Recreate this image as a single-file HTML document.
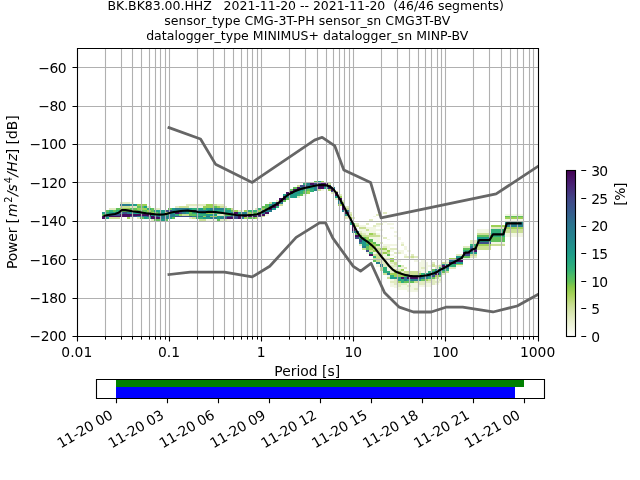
<!DOCTYPE html><html><head><meta charset="utf-8"><title>PPSD BK.BK83.00.HHZ</title>
<style>html,body{margin:0;padding:0;background:#fff;overflow:hidden}svg{display:block}text{font-family:"DejaVu Sans","Liberation Sans",sans-serif;fill:#000}.t{font-size:12.5px;text-anchor:middle;white-space:pre}.l{font-size:13.89px}.g{stroke:#b0b0b0;stroke-width:1.11;fill:none}.k{stroke:#000;stroke-width:1.11;fill:none}</style></head><body>
<svg width="640" height="480" viewBox="0 0 640 480">
<rect width="640" height="480" fill="#fff"/>
<text class="t" x="305.7" y="9.8" textLength="396.6" lengthAdjust="spacing" xml:space="preserve">BK.BK83.00.HHZ   2021-11-20 -- 2021-11-20  (46/46 segments)</text>
<text class="t" x="307.2" y="25.2" textLength="286.1" lengthAdjust="spacing" xml:space="preserve">sensor_type CMG-3T-PH sensor_sn CMG3T-BV</text>
<text class="t" x="307.2" y="39.7" textLength="322.1" lengthAdjust="spacing" xml:space="preserve">datalogger_type MINIMUS+ datalogger_sn MINP-BV</text>
<g shape-rendering="crispEdges">
<rect x="102.00" y="212.00" width="4.00" height="2.00" fill="#1f9c89"/>
<rect x="102.00" y="214.00" width="4.00" height="2.00" fill="#60c059"/>
<rect x="102.00" y="216.00" width="4.00" height="1.00" fill="#460e60"/>
<rect x="102.00" y="217.00" width="4.00" height="2.00" fill="#460e60"/>
<rect x="106.00" y="210.00" width="3.00" height="2.00" fill="#60c059"/>
<rect x="106.00" y="212.00" width="3.00" height="2.00" fill="#30af7a"/>
<rect x="106.00" y="214.00" width="3.00" height="2.00" fill="#1f9c89"/>
<rect x="106.00" y="216.00" width="3.00" height="1.00" fill="#3d4e89"/>
<rect x="106.00" y="217.00" width="3.00" height="2.00" fill="#1f9c89"/>
<rect x="109.00" y="208.00" width="4.00" height="2.00" fill="#e1ebc0"/>
<rect x="109.00" y="210.00" width="4.00" height="2.00" fill="#30af7a"/>
<rect x="109.00" y="212.00" width="4.00" height="2.00" fill="#1f9c89"/>
<rect x="109.00" y="214.00" width="4.00" height="2.00" fill="#3d4e89"/>
<rect x="109.00" y="216.00" width="4.00" height="1.00" fill="#460e60"/>
<rect x="109.00" y="217.00" width="4.00" height="2.00" fill="#cadf95"/>
<rect x="113.00" y="208.00" width="3.00" height="2.00" fill="#e1ebc0"/>
<rect x="113.00" y="210.00" width="3.00" height="2.00" fill="#60c059"/>
<rect x="113.00" y="212.00" width="3.00" height="2.00" fill="#1f9c89"/>
<rect x="113.00" y="214.00" width="3.00" height="2.00" fill="#3d4e89"/>
<rect x="113.00" y="216.00" width="3.00" height="1.00" fill="#460e60"/>
<rect x="113.00" y="217.00" width="3.00" height="2.00" fill="#cadf95"/>
<rect x="116.00" y="208.00" width="4.00" height="2.00" fill="#60c059"/>
<rect x="116.00" y="210.00" width="4.00" height="2.00" fill="#30af7a"/>
<rect x="116.00" y="212.00" width="4.00" height="2.00" fill="#1f9c89"/>
<rect x="116.00" y="214.00" width="4.00" height="2.00" fill="#3d4e89"/>
<rect x="116.00" y="216.00" width="4.00" height="1.00" fill="#460e60"/>
<rect x="116.00" y="217.00" width="4.00" height="2.00" fill="#cadf95"/>
<rect x="120.00" y="202.00" width="3.00" height="2.00" fill="#e1ebc0"/>
<rect x="120.00" y="204.00" width="3.00" height="2.00" fill="#277d8e"/>
<rect x="120.00" y="206.00" width="3.00" height="2.00" fill="#cadf95"/>
<rect x="120.00" y="208.00" width="3.00" height="2.00" fill="#9dd055"/>
<rect x="120.00" y="210.00" width="3.00" height="2.00" fill="#60c059"/>
<rect x="120.00" y="212.00" width="3.00" height="2.00" fill="#277d8e"/>
<rect x="120.00" y="214.00" width="3.00" height="2.00" fill="#460e60"/>
<rect x="120.00" y="216.00" width="3.00" height="1.00" fill="#460e60"/>
<rect x="123.00" y="202.00" width="4.00" height="2.00" fill="#e1ebc0"/>
<rect x="123.00" y="204.00" width="4.00" height="2.00" fill="#277d8e"/>
<rect x="123.00" y="206.00" width="4.00" height="2.00" fill="#cadf95"/>
<rect x="123.00" y="208.00" width="4.00" height="2.00" fill="#9dd055"/>
<rect x="123.00" y="210.00" width="4.00" height="2.00" fill="#60c059"/>
<rect x="123.00" y="212.00" width="4.00" height="2.00" fill="#3d4e89"/>
<rect x="123.00" y="214.00" width="4.00" height="2.00" fill="#460e60"/>
<rect x="123.00" y="216.00" width="4.00" height="1.00" fill="#460e60"/>
<rect x="127.00" y="202.00" width="3.00" height="2.00" fill="#e1ebc0"/>
<rect x="127.00" y="204.00" width="3.00" height="2.00" fill="#277d8e"/>
<rect x="127.00" y="206.00" width="3.00" height="2.00" fill="#cadf95"/>
<rect x="127.00" y="208.00" width="3.00" height="2.00" fill="#9dd055"/>
<rect x="127.00" y="210.00" width="3.00" height="2.00" fill="#60c059"/>
<rect x="127.00" y="212.00" width="3.00" height="2.00" fill="#277d8e"/>
<rect x="127.00" y="214.00" width="3.00" height="2.00" fill="#460e60"/>
<rect x="127.00" y="216.00" width="3.00" height="1.00" fill="#460e60"/>
<rect x="127.00" y="217.00" width="3.00" height="2.00" fill="#9dd055"/>
<rect x="130.00" y="202.00" width="4.00" height="2.00" fill="#f2f6e3"/>
<rect x="130.00" y="204.00" width="4.00" height="2.00" fill="#1f9c89"/>
<rect x="130.00" y="206.00" width="4.00" height="2.00" fill="#e1ebc0"/>
<rect x="130.00" y="208.00" width="4.00" height="2.00" fill="#60c059"/>
<rect x="130.00" y="210.00" width="4.00" height="2.00" fill="#9dd055"/>
<rect x="130.00" y="212.00" width="4.00" height="2.00" fill="#1f9c89"/>
<rect x="130.00" y="214.00" width="4.00" height="2.00" fill="#460e60"/>
<rect x="130.00" y="216.00" width="4.00" height="1.00" fill="#3d4e89"/>
<rect x="130.00" y="217.00" width="4.00" height="2.00" fill="#f2f6e3"/>
<rect x="134.00" y="204.00" width="3.00" height="2.00" fill="#1f9c89"/>
<rect x="134.00" y="206.00" width="3.00" height="2.00" fill="#e1ebc0"/>
<rect x="134.00" y="208.00" width="3.00" height="2.00" fill="#60c059"/>
<rect x="134.00" y="210.00" width="3.00" height="2.00" fill="#9dd055"/>
<rect x="134.00" y="212.00" width="3.00" height="2.00" fill="#1f9c89"/>
<rect x="134.00" y="214.00" width="3.00" height="2.00" fill="#460e60"/>
<rect x="134.00" y="216.00" width="3.00" height="1.00" fill="#3d4e89"/>
<rect x="137.00" y="204.00" width="3.00" height="2.00" fill="#9dd055"/>
<rect x="137.00" y="206.00" width="3.00" height="2.00" fill="#60c059"/>
<rect x="137.00" y="208.00" width="3.00" height="2.00" fill="#9dd055"/>
<rect x="137.00" y="210.00" width="3.00" height="2.00" fill="#60c059"/>
<rect x="137.00" y="212.00" width="3.00" height="2.00" fill="#1f9c89"/>
<rect x="137.00" y="214.00" width="3.00" height="2.00" fill="#460e60"/>
<rect x="137.00" y="216.00" width="3.00" height="1.00" fill="#277d8e"/>
<rect x="137.00" y="217.00" width="3.00" height="2.00" fill="#e1ebc0"/>
<rect x="140.00" y="204.00" width="4.00" height="2.00" fill="#9dd055"/>
<rect x="140.00" y="206.00" width="4.00" height="2.00" fill="#60c059"/>
<rect x="140.00" y="208.00" width="4.00" height="2.00" fill="#9dd055"/>
<rect x="140.00" y="210.00" width="4.00" height="2.00" fill="#60c059"/>
<rect x="140.00" y="212.00" width="4.00" height="2.00" fill="#1f9c89"/>
<rect x="140.00" y="214.00" width="4.00" height="2.00" fill="#460e60"/>
<rect x="140.00" y="216.00" width="4.00" height="1.00" fill="#277d8e"/>
<rect x="140.00" y="217.00" width="4.00" height="2.00" fill="#60c059"/>
<rect x="144.00" y="204.00" width="3.00" height="2.00" fill="#9dd055"/>
<rect x="144.00" y="206.00" width="3.00" height="2.00" fill="#1f9c89"/>
<rect x="144.00" y="208.00" width="3.00" height="2.00" fill="#9dd055"/>
<rect x="144.00" y="210.00" width="3.00" height="2.00" fill="#60c059"/>
<rect x="144.00" y="212.00" width="3.00" height="2.00" fill="#1f9c89"/>
<rect x="144.00" y="214.00" width="3.00" height="2.00" fill="#460e60"/>
<rect x="144.00" y="216.00" width="3.00" height="1.00" fill="#277d8e"/>
<rect x="144.00" y="217.00" width="3.00" height="2.00" fill="#1f9c89"/>
<rect x="147.00" y="206.00" width="4.00" height="2.00" fill="#e1ebc0"/>
<rect x="147.00" y="208.00" width="4.00" height="2.00" fill="#30af7a"/>
<rect x="147.00" y="210.00" width="4.00" height="2.00" fill="#9dd055"/>
<rect x="147.00" y="212.00" width="4.00" height="2.00" fill="#60c059"/>
<rect x="147.00" y="214.00" width="4.00" height="2.00" fill="#460e60"/>
<rect x="147.00" y="216.00" width="4.00" height="1.00" fill="#3d4e89"/>
<rect x="147.00" y="217.00" width="4.00" height="2.00" fill="#30af7a"/>
<rect x="151.00" y="208.00" width="3.00" height="2.00" fill="#60c059"/>
<rect x="151.00" y="210.00" width="3.00" height="2.00" fill="#60c059"/>
<rect x="151.00" y="212.00" width="3.00" height="2.00" fill="#9dd055"/>
<rect x="151.00" y="214.00" width="3.00" height="2.00" fill="#1f9c89"/>
<rect x="151.00" y="216.00" width="3.00" height="1.00" fill="#460e60"/>
<rect x="151.00" y="217.00" width="3.00" height="2.00" fill="#460e60"/>
<rect x="151.00" y="219.00" width="3.00" height="2.00" fill="#e1ebc0"/>
<rect x="154.00" y="208.00" width="4.00" height="2.00" fill="#e1ebc0"/>
<rect x="154.00" y="210.00" width="4.00" height="2.00" fill="#1f9c89"/>
<rect x="154.00" y="212.00" width="4.00" height="2.00" fill="#60c059"/>
<rect x="154.00" y="214.00" width="4.00" height="2.00" fill="#1f9c89"/>
<rect x="154.00" y="216.00" width="4.00" height="1.00" fill="#3d4e89"/>
<rect x="154.00" y="217.00" width="4.00" height="2.00" fill="#460e60"/>
<rect x="154.00" y="219.00" width="4.00" height="2.00" fill="#60c059"/>
<rect x="158.00" y="208.00" width="3.00" height="2.00" fill="#e1ebc0"/>
<rect x="158.00" y="210.00" width="3.00" height="2.00" fill="#1f9c89"/>
<rect x="158.00" y="212.00" width="3.00" height="2.00" fill="#30af7a"/>
<rect x="158.00" y="214.00" width="3.00" height="2.00" fill="#1f9c89"/>
<rect x="158.00" y="216.00" width="3.00" height="1.00" fill="#277d8e"/>
<rect x="158.00" y="217.00" width="3.00" height="2.00" fill="#460e60"/>
<rect x="158.00" y="219.00" width="3.00" height="2.00" fill="#60c059"/>
<rect x="161.00" y="210.00" width="4.00" height="2.00" fill="#1f9c89"/>
<rect x="161.00" y="212.00" width="4.00" height="2.00" fill="#1f9c89"/>
<rect x="161.00" y="214.00" width="4.00" height="2.00" fill="#1f9c89"/>
<rect x="161.00" y="216.00" width="4.00" height="1.00" fill="#277d8e"/>
<rect x="161.00" y="217.00" width="4.00" height="2.00" fill="#277d8e"/>
<rect x="161.00" y="219.00" width="4.00" height="2.00" fill="#1f9c89"/>
<rect x="165.00" y="210.00" width="3.00" height="2.00" fill="#3d4e89"/>
<rect x="165.00" y="212.00" width="3.00" height="2.00" fill="#9dd055"/>
<rect x="165.00" y="214.00" width="3.00" height="2.00" fill="#30af7a"/>
<rect x="165.00" y="216.00" width="3.00" height="1.00" fill="#277d8e"/>
<rect x="165.00" y="217.00" width="3.00" height="2.00" fill="#277d8e"/>
<rect x="165.00" y="219.00" width="3.00" height="2.00" fill="#60c059"/>
<rect x="168.00" y="208.00" width="4.00" height="2.00" fill="#60c059"/>
<rect x="168.00" y="210.00" width="4.00" height="2.00" fill="#3d4e89"/>
<rect x="168.00" y="212.00" width="4.00" height="2.00" fill="#1f9c89"/>
<rect x="168.00" y="214.00" width="4.00" height="2.00" fill="#277d8e"/>
<rect x="168.00" y="216.00" width="4.00" height="1.00" fill="#277d8e"/>
<rect x="168.00" y="217.00" width="4.00" height="2.00" fill="#1f9c89"/>
<rect x="172.00" y="208.00" width="3.00" height="2.00" fill="#1f9c89"/>
<rect x="172.00" y="210.00" width="3.00" height="2.00" fill="#277d8e"/>
<rect x="172.00" y="212.00" width="3.00" height="2.00" fill="#1f9c89"/>
<rect x="172.00" y="214.00" width="3.00" height="2.00" fill="#277d8e"/>
<rect x="172.00" y="216.00" width="3.00" height="1.00" fill="#277d8e"/>
<rect x="172.00" y="217.00" width="3.00" height="2.00" fill="#60c059"/>
<rect x="175.00" y="206.00" width="4.00" height="2.00" fill="#e1ebc0"/>
<rect x="175.00" y="208.00" width="4.00" height="2.00" fill="#277d8e"/>
<rect x="175.00" y="210.00" width="4.00" height="2.00" fill="#1f9c89"/>
<rect x="175.00" y="212.00" width="4.00" height="2.00" fill="#460e60"/>
<rect x="175.00" y="214.00" width="4.00" height="2.00" fill="#30af7a"/>
<rect x="175.00" y="216.00" width="4.00" height="1.00" fill="#3d4e89"/>
<rect x="179.00" y="206.00" width="3.00" height="2.00" fill="#cadf95"/>
<rect x="179.00" y="208.00" width="3.00" height="2.00" fill="#277d8e"/>
<rect x="179.00" y="210.00" width="3.00" height="2.00" fill="#1f9c89"/>
<rect x="179.00" y="212.00" width="3.00" height="2.00" fill="#3d4e89"/>
<rect x="179.00" y="214.00" width="3.00" height="2.00" fill="#9dd055"/>
<rect x="179.00" y="216.00" width="3.00" height="1.00" fill="#3d4e89"/>
<rect x="182.00" y="206.00" width="4.00" height="2.00" fill="#cadf95"/>
<rect x="182.00" y="208.00" width="4.00" height="2.00" fill="#277d8e"/>
<rect x="182.00" y="210.00" width="4.00" height="2.00" fill="#277d8e"/>
<rect x="182.00" y="212.00" width="4.00" height="2.00" fill="#277d8e"/>
<rect x="182.00" y="214.00" width="4.00" height="2.00" fill="#cadf95"/>
<rect x="182.00" y="216.00" width="4.00" height="1.00" fill="#3d4e89"/>
<rect x="186.00" y="204.00" width="3.00" height="2.00" fill="#e1ebc0"/>
<rect x="186.00" y="206.00" width="3.00" height="2.00" fill="#cadf95"/>
<rect x="186.00" y="208.00" width="3.00" height="2.00" fill="#277d8e"/>
<rect x="186.00" y="210.00" width="3.00" height="2.00" fill="#1f9c89"/>
<rect x="186.00" y="212.00" width="3.00" height="2.00" fill="#1f9c89"/>
<rect x="186.00" y="214.00" width="3.00" height="2.00" fill="#cadf95"/>
<rect x="186.00" y="216.00" width="3.00" height="1.00" fill="#3d4e89"/>
<rect x="189.00" y="204.00" width="3.00" height="2.00" fill="#e1ebc0"/>
<rect x="189.00" y="206.00" width="3.00" height="2.00" fill="#f2f6e3"/>
<rect x="189.00" y="208.00" width="3.00" height="2.00" fill="#1f9c89"/>
<rect x="189.00" y="210.00" width="3.00" height="2.00" fill="#30af7a"/>
<rect x="189.00" y="212.00" width="3.00" height="2.00" fill="#60c059"/>
<rect x="189.00" y="214.00" width="3.00" height="2.00" fill="#60c059"/>
<rect x="189.00" y="216.00" width="3.00" height="1.00" fill="#3d4e89"/>
<rect x="189.00" y="217.00" width="3.00" height="2.00" fill="#e1ebc0"/>
<rect x="192.00" y="204.00" width="4.00" height="2.00" fill="#e1ebc0"/>
<rect x="192.00" y="206.00" width="4.00" height="2.00" fill="#f2f6e3"/>
<rect x="192.00" y="208.00" width="4.00" height="2.00" fill="#30af7a"/>
<rect x="192.00" y="210.00" width="4.00" height="2.00" fill="#460e60"/>
<rect x="192.00" y="212.00" width="4.00" height="2.00" fill="#30af7a"/>
<rect x="192.00" y="214.00" width="4.00" height="2.00" fill="#60c059"/>
<rect x="192.00" y="216.00" width="4.00" height="1.00" fill="#277d8e"/>
<rect x="192.00" y="217.00" width="4.00" height="2.00" fill="#cadf95"/>
<rect x="196.00" y="204.00" width="3.00" height="2.00" fill="#e1ebc0"/>
<rect x="196.00" y="206.00" width="3.00" height="2.00" fill="#f2f6e3"/>
<rect x="196.00" y="208.00" width="3.00" height="2.00" fill="#30af7a"/>
<rect x="196.00" y="210.00" width="3.00" height="2.00" fill="#277d8e"/>
<rect x="196.00" y="212.00" width="3.00" height="2.00" fill="#1f9c89"/>
<rect x="196.00" y="214.00" width="3.00" height="2.00" fill="#30af7a"/>
<rect x="196.00" y="216.00" width="3.00" height="1.00" fill="#277d8e"/>
<rect x="196.00" y="217.00" width="3.00" height="2.00" fill="#30af7a"/>
<rect x="199.00" y="204.00" width="4.00" height="2.00" fill="#e1ebc0"/>
<rect x="199.00" y="206.00" width="4.00" height="2.00" fill="#f2f6e3"/>
<rect x="199.00" y="208.00" width="4.00" height="2.00" fill="#1f9c89"/>
<rect x="199.00" y="210.00" width="4.00" height="2.00" fill="#277d8e"/>
<rect x="199.00" y="212.00" width="4.00" height="2.00" fill="#1f9c89"/>
<rect x="199.00" y="214.00" width="4.00" height="2.00" fill="#30af7a"/>
<rect x="199.00" y="216.00" width="4.00" height="1.00" fill="#277d8e"/>
<rect x="199.00" y="217.00" width="4.00" height="2.00" fill="#30af7a"/>
<rect x="199.00" y="219.00" width="4.00" height="2.00" fill="#cadf95"/>
<rect x="203.00" y="204.00" width="3.00" height="2.00" fill="#e1ebc0"/>
<rect x="203.00" y="206.00" width="3.00" height="2.00" fill="#9dd055"/>
<rect x="203.00" y="208.00" width="3.00" height="2.00" fill="#60c059"/>
<rect x="203.00" y="210.00" width="3.00" height="2.00" fill="#277d8e"/>
<rect x="203.00" y="212.00" width="3.00" height="2.00" fill="#1f9c89"/>
<rect x="203.00" y="214.00" width="3.00" height="2.00" fill="#30af7a"/>
<rect x="203.00" y="216.00" width="3.00" height="1.00" fill="#9dd055"/>
<rect x="203.00" y="217.00" width="3.00" height="2.00" fill="#1f9c89"/>
<rect x="203.00" y="219.00" width="3.00" height="2.00" fill="#cadf95"/>
<rect x="206.00" y="204.00" width="4.00" height="2.00" fill="#9dd055"/>
<rect x="206.00" y="206.00" width="4.00" height="2.00" fill="#9dd055"/>
<rect x="206.00" y="208.00" width="4.00" height="2.00" fill="#1f9c89"/>
<rect x="206.00" y="210.00" width="4.00" height="2.00" fill="#1f9c89"/>
<rect x="206.00" y="212.00" width="4.00" height="2.00" fill="#9dd055"/>
<rect x="206.00" y="214.00" width="4.00" height="2.00" fill="#1f9c89"/>
<rect x="206.00" y="216.00" width="4.00" height="1.00" fill="#277d8e"/>
<rect x="206.00" y="217.00" width="4.00" height="2.00" fill="#1f9c89"/>
<rect x="206.00" y="219.00" width="4.00" height="2.00" fill="#f2f6e3"/>
<rect x="210.00" y="204.00" width="3.00" height="2.00" fill="#9dd055"/>
<rect x="210.00" y="206.00" width="3.00" height="2.00" fill="#9dd055"/>
<rect x="210.00" y="208.00" width="3.00" height="2.00" fill="#277d8e"/>
<rect x="210.00" y="210.00" width="3.00" height="2.00" fill="#1f9c89"/>
<rect x="210.00" y="212.00" width="3.00" height="2.00" fill="#9dd055"/>
<rect x="210.00" y="214.00" width="3.00" height="2.00" fill="#1f9c89"/>
<rect x="210.00" y="216.00" width="3.00" height="1.00" fill="#9dd055"/>
<rect x="210.00" y="217.00" width="3.00" height="2.00" fill="#277d8e"/>
<rect x="210.00" y="219.00" width="3.00" height="2.00" fill="#f2f6e3"/>
<rect x="213.00" y="204.00" width="4.00" height="2.00" fill="#cadf95"/>
<rect x="213.00" y="206.00" width="4.00" height="2.00" fill="#60c059"/>
<rect x="213.00" y="208.00" width="4.00" height="2.00" fill="#277d8e"/>
<rect x="213.00" y="210.00" width="4.00" height="2.00" fill="#1f9c89"/>
<rect x="213.00" y="212.00" width="4.00" height="2.00" fill="#60c059"/>
<rect x="213.00" y="214.00" width="4.00" height="2.00" fill="#1f9c89"/>
<rect x="213.00" y="216.00" width="4.00" height="1.00" fill="#9dd055"/>
<rect x="213.00" y="217.00" width="4.00" height="2.00" fill="#277d8e"/>
<rect x="213.00" y="219.00" width="4.00" height="2.00" fill="#f2f6e3"/>
<rect x="217.00" y="204.00" width="3.00" height="2.00" fill="#e1ebc0"/>
<rect x="217.00" y="206.00" width="3.00" height="2.00" fill="#9dd055"/>
<rect x="217.00" y="208.00" width="3.00" height="2.00" fill="#277d8e"/>
<rect x="217.00" y="210.00" width="3.00" height="2.00" fill="#30af7a"/>
<rect x="217.00" y="212.00" width="3.00" height="2.00" fill="#30af7a"/>
<rect x="217.00" y="214.00" width="3.00" height="2.00" fill="#e1ebc0"/>
<rect x="217.00" y="216.00" width="3.00" height="1.00" fill="#1f9c89"/>
<rect x="217.00" y="217.00" width="3.00" height="2.00" fill="#1f9c89"/>
<rect x="217.00" y="219.00" width="3.00" height="2.00" fill="#60c059"/>
<rect x="220.00" y="204.00" width="4.00" height="2.00" fill="#e1ebc0"/>
<rect x="220.00" y="206.00" width="4.00" height="2.00" fill="#cadf95"/>
<rect x="220.00" y="208.00" width="4.00" height="2.00" fill="#277d8e"/>
<rect x="220.00" y="210.00" width="4.00" height="2.00" fill="#1f9c89"/>
<rect x="220.00" y="212.00" width="4.00" height="2.00" fill="#30af7a"/>
<rect x="220.00" y="214.00" width="4.00" height="2.00" fill="#e1ebc0"/>
<rect x="220.00" y="216.00" width="4.00" height="1.00" fill="#1f9c89"/>
<rect x="220.00" y="217.00" width="4.00" height="2.00" fill="#277d8e"/>
<rect x="220.00" y="219.00" width="4.00" height="2.00" fill="#e1ebc0"/>
<rect x="224.00" y="206.00" width="3.00" height="2.00" fill="#e1ebc0"/>
<rect x="224.00" y="208.00" width="3.00" height="2.00" fill="#30af7a"/>
<rect x="224.00" y="210.00" width="3.00" height="2.00" fill="#1f9c89"/>
<rect x="224.00" y="212.00" width="3.00" height="2.00" fill="#1f9c89"/>
<rect x="224.00" y="214.00" width="3.00" height="2.00" fill="#60c059"/>
<rect x="224.00" y="216.00" width="3.00" height="1.00" fill="#277d8e"/>
<rect x="224.00" y="217.00" width="3.00" height="2.00" fill="#3d4e89"/>
<rect x="224.00" y="219.00" width="3.00" height="2.00" fill="#e1ebc0"/>
<rect x="227.00" y="208.00" width="4.00" height="2.00" fill="#60c059"/>
<rect x="227.00" y="210.00" width="4.00" height="2.00" fill="#1f9c89"/>
<rect x="227.00" y="212.00" width="4.00" height="2.00" fill="#1f9c89"/>
<rect x="227.00" y="214.00" width="4.00" height="2.00" fill="#60c059"/>
<rect x="227.00" y="216.00" width="4.00" height="1.00" fill="#3d4e89"/>
<rect x="227.00" y="217.00" width="4.00" height="2.00" fill="#460e60"/>
<rect x="227.00" y="219.00" width="4.00" height="2.00" fill="#f2f6e3"/>
<rect x="231.00" y="208.00" width="3.00" height="2.00" fill="#cadf95"/>
<rect x="231.00" y="210.00" width="3.00" height="2.00" fill="#60c059"/>
<rect x="231.00" y="212.00" width="3.00" height="2.00" fill="#277d8e"/>
<rect x="231.00" y="214.00" width="3.00" height="2.00" fill="#1f9c89"/>
<rect x="231.00" y="216.00" width="3.00" height="1.00" fill="#3d4e89"/>
<rect x="231.00" y="217.00" width="3.00" height="2.00" fill="#460e60"/>
<rect x="234.00" y="210.00" width="4.00" height="2.00" fill="#9dd055"/>
<rect x="234.00" y="212.00" width="4.00" height="2.00" fill="#460e60"/>
<rect x="234.00" y="214.00" width="4.00" height="2.00" fill="#1f9c89"/>
<rect x="234.00" y="216.00" width="4.00" height="1.00" fill="#3d4e89"/>
<rect x="234.00" y="217.00" width="4.00" height="2.00" fill="#3d4e89"/>
<rect x="238.00" y="210.00" width="3.00" height="2.00" fill="#e1ebc0"/>
<rect x="238.00" y="212.00" width="3.00" height="2.00" fill="#1f9c89"/>
<rect x="238.00" y="214.00" width="3.00" height="2.00" fill="#277d8e"/>
<rect x="238.00" y="216.00" width="3.00" height="1.00" fill="#460e60"/>
<rect x="238.00" y="217.00" width="3.00" height="2.00" fill="#460e60"/>
<rect x="241.00" y="210.00" width="3.00" height="2.00" fill="#f2f6e3"/>
<rect x="241.00" y="212.00" width="3.00" height="2.00" fill="#277d8e"/>
<rect x="241.00" y="214.00" width="3.00" height="2.00" fill="#277d8e"/>
<rect x="241.00" y="216.00" width="3.00" height="1.00" fill="#3d4e89"/>
<rect x="241.00" y="217.00" width="3.00" height="2.00" fill="#277d8e"/>
<rect x="244.00" y="210.00" width="4.00" height="2.00" fill="#9dd055"/>
<rect x="244.00" y="212.00" width="4.00" height="2.00" fill="#277d8e"/>
<rect x="244.00" y="214.00" width="4.00" height="2.00" fill="#277d8e"/>
<rect x="244.00" y="216.00" width="4.00" height="1.00" fill="#460e60"/>
<rect x="244.00" y="217.00" width="4.00" height="2.00" fill="#9dd055"/>
<rect x="248.00" y="210.00" width="3.00" height="2.00" fill="#30af7a"/>
<rect x="248.00" y="212.00" width="3.00" height="2.00" fill="#9dd055"/>
<rect x="248.00" y="214.00" width="3.00" height="2.00" fill="#1f9c89"/>
<rect x="248.00" y="216.00" width="3.00" height="1.00" fill="#460e60"/>
<rect x="248.00" y="217.00" width="3.00" height="2.00" fill="#60c059"/>
<rect x="251.00" y="210.00" width="4.00" height="2.00" fill="#30af7a"/>
<rect x="251.00" y="212.00" width="4.00" height="2.00" fill="#60c059"/>
<rect x="251.00" y="214.00" width="4.00" height="2.00" fill="#1f9c89"/>
<rect x="251.00" y="216.00" width="4.00" height="1.00" fill="#460e60"/>
<rect x="251.00" y="217.00" width="4.00" height="2.00" fill="#60c059"/>
<rect x="255.00" y="208.00" width="3.00" height="2.00" fill="#e1ebc0"/>
<rect x="255.00" y="210.00" width="3.00" height="2.00" fill="#30af7a"/>
<rect x="255.00" y="212.00" width="3.00" height="2.00" fill="#60c059"/>
<rect x="255.00" y="214.00" width="3.00" height="2.00" fill="#277d8e"/>
<rect x="255.00" y="216.00" width="3.00" height="1.00" fill="#460e60"/>
<rect x="255.00" y="217.00" width="3.00" height="2.00" fill="#9dd055"/>
<rect x="258.00" y="208.00" width="4.00" height="2.00" fill="#30af7a"/>
<rect x="258.00" y="210.00" width="4.00" height="2.00" fill="#9dd055"/>
<rect x="258.00" y="212.00" width="4.00" height="2.00" fill="#1f9c89"/>
<rect x="258.00" y="214.00" width="4.00" height="2.00" fill="#460e60"/>
<rect x="258.00" y="216.00" width="4.00" height="1.00" fill="#3d4e89"/>
<rect x="258.00" y="217.00" width="4.00" height="2.00" fill="#f2f6e3"/>
<rect x="262.00" y="206.00" width="3.00" height="2.00" fill="#60c059"/>
<rect x="262.00" y="208.00" width="3.00" height="2.00" fill="#9dd055"/>
<rect x="262.00" y="210.00" width="3.00" height="2.00" fill="#1f9c89"/>
<rect x="262.00" y="212.00" width="3.00" height="2.00" fill="#277d8e"/>
<rect x="262.00" y="214.00" width="3.00" height="2.00" fill="#460e60"/>
<rect x="262.00" y="216.00" width="3.00" height="1.00" fill="#cadf95"/>
<rect x="265.00" y="204.00" width="4.00" height="2.00" fill="#60c059"/>
<rect x="265.00" y="206.00" width="4.00" height="2.00" fill="#60c059"/>
<rect x="265.00" y="208.00" width="4.00" height="2.00" fill="#30af7a"/>
<rect x="265.00" y="210.00" width="4.00" height="2.00" fill="#277d8e"/>
<rect x="265.00" y="212.00" width="4.00" height="2.00" fill="#460e60"/>
<rect x="265.00" y="214.00" width="4.00" height="2.00" fill="#f2f6e3"/>
<rect x="269.00" y="202.00" width="3.00" height="2.00" fill="#cadf95"/>
<rect x="269.00" y="204.00" width="3.00" height="2.00" fill="#1f9c89"/>
<rect x="269.00" y="206.00" width="3.00" height="2.00" fill="#277d8e"/>
<rect x="269.00" y="208.00" width="3.00" height="2.00" fill="#460e60"/>
<rect x="269.00" y="210.00" width="3.00" height="2.00" fill="#277d8e"/>
<rect x="272.00" y="202.00" width="4.00" height="2.00" fill="#1f9c89"/>
<rect x="272.00" y="204.00" width="4.00" height="2.00" fill="#3d4e89"/>
<rect x="272.00" y="206.00" width="4.00" height="2.00" fill="#460e60"/>
<rect x="272.00" y="208.00" width="4.00" height="2.00" fill="#1f9c89"/>
<rect x="276.00" y="200.00" width="3.00" height="2.00" fill="#e1ebc0"/>
<rect x="276.00" y="202.00" width="3.00" height="2.00" fill="#460e60"/>
<rect x="276.00" y="204.00" width="3.00" height="2.00" fill="#460e60"/>
<rect x="276.00" y="206.00" width="3.00" height="2.00" fill="#30af7a"/>
<rect x="279.00" y="198.00" width="4.00" height="2.00" fill="#460e60"/>
<rect x="279.00" y="200.00" width="4.00" height="2.00" fill="#460e60"/>
<rect x="279.00" y="202.00" width="4.00" height="2.00" fill="#277d8e"/>
<rect x="279.00" y="204.00" width="4.00" height="2.00" fill="#cadf95"/>
<rect x="283.00" y="194.00" width="3.00" height="2.00" fill="#1f9c89"/>
<rect x="283.00" y="196.00" width="3.00" height="2.00" fill="#460e60"/>
<rect x="283.00" y="198.00" width="3.00" height="2.00" fill="#460e60"/>
<rect x="283.00" y="200.00" width="3.00" height="2.00" fill="#60c059"/>
<rect x="286.00" y="192.00" width="4.00" height="2.00" fill="#460e60"/>
<rect x="286.00" y="194.00" width="4.00" height="2.00" fill="#3d4e89"/>
<rect x="286.00" y="196.00" width="4.00" height="2.00" fill="#1f9c89"/>
<rect x="286.00" y="198.00" width="4.00" height="2.00" fill="#60c059"/>
<rect x="290.00" y="189.00" width="3.00" height="2.00" fill="#60c059"/>
<rect x="290.00" y="191.00" width="3.00" height="1.00" fill="#460e60"/>
<rect x="290.00" y="192.00" width="3.00" height="2.00" fill="#460e60"/>
<rect x="290.00" y="194.00" width="3.00" height="2.00" fill="#1f9c89"/>
<rect x="290.00" y="196.00" width="3.00" height="2.00" fill="#1f9c89"/>
<rect x="293.00" y="187.00" width="4.00" height="2.00" fill="#60c059"/>
<rect x="293.00" y="189.00" width="4.00" height="2.00" fill="#460e60"/>
<rect x="293.00" y="191.00" width="4.00" height="1.00" fill="#3d4e89"/>
<rect x="293.00" y="192.00" width="4.00" height="2.00" fill="#1f9c89"/>
<rect x="293.00" y="194.00" width="4.00" height="2.00" fill="#1f9c89"/>
<rect x="293.00" y="196.00" width="4.00" height="2.00" fill="#1f9c89"/>
<rect x="297.00" y="185.00" width="3.00" height="2.00" fill="#cadf95"/>
<rect x="297.00" y="187.00" width="3.00" height="2.00" fill="#460e60"/>
<rect x="297.00" y="189.00" width="3.00" height="2.00" fill="#277d8e"/>
<rect x="297.00" y="191.00" width="3.00" height="1.00" fill="#1f9c89"/>
<rect x="297.00" y="192.00" width="3.00" height="2.00" fill="#1f9c89"/>
<rect x="297.00" y="194.00" width="3.00" height="2.00" fill="#30af7a"/>
<rect x="297.00" y="196.00" width="3.00" height="2.00" fill="#e1ebc0"/>
<rect x="300.00" y="185.00" width="3.00" height="2.00" fill="#3d4e89"/>
<rect x="300.00" y="187.00" width="3.00" height="2.00" fill="#277d8e"/>
<rect x="300.00" y="189.00" width="3.00" height="2.00" fill="#1f9c89"/>
<rect x="300.00" y="191.00" width="3.00" height="1.00" fill="#30af7a"/>
<rect x="300.00" y="192.00" width="3.00" height="2.00" fill="#30af7a"/>
<rect x="300.00" y="194.00" width="3.00" height="2.00" fill="#60c059"/>
<rect x="303.00" y="183.00" width="4.00" height="2.00" fill="#30af7a"/>
<rect x="303.00" y="185.00" width="4.00" height="2.00" fill="#3d4e89"/>
<rect x="303.00" y="187.00" width="4.00" height="2.00" fill="#277d8e"/>
<rect x="303.00" y="189.00" width="4.00" height="2.00" fill="#30af7a"/>
<rect x="303.00" y="191.00" width="4.00" height="1.00" fill="#60c059"/>
<rect x="303.00" y="192.00" width="4.00" height="2.00" fill="#60c059"/>
<rect x="303.00" y="194.00" width="4.00" height="2.00" fill="#f2f6e3"/>
<rect x="307.00" y="183.00" width="3.00" height="2.00" fill="#277d8e"/>
<rect x="307.00" y="185.00" width="3.00" height="2.00" fill="#277d8e"/>
<rect x="307.00" y="187.00" width="3.00" height="2.00" fill="#1f9c89"/>
<rect x="307.00" y="189.00" width="3.00" height="2.00" fill="#60c059"/>
<rect x="307.00" y="191.00" width="3.00" height="1.00" fill="#9dd055"/>
<rect x="307.00" y="192.00" width="3.00" height="2.00" fill="#9dd055"/>
<rect x="310.00" y="183.00" width="4.00" height="2.00" fill="#460e60"/>
<rect x="310.00" y="185.00" width="4.00" height="2.00" fill="#277d8e"/>
<rect x="310.00" y="187.00" width="4.00" height="2.00" fill="#1f9c89"/>
<rect x="310.00" y="189.00" width="4.00" height="2.00" fill="#30af7a"/>
<rect x="310.00" y="191.00" width="4.00" height="1.00" fill="#30af7a"/>
<rect x="314.00" y="181.00" width="3.00" height="2.00" fill="#60c059"/>
<rect x="314.00" y="183.00" width="3.00" height="2.00" fill="#3d4e89"/>
<rect x="314.00" y="185.00" width="3.00" height="2.00" fill="#277d8e"/>
<rect x="314.00" y="187.00" width="3.00" height="2.00" fill="#277d8e"/>
<rect x="314.00" y="189.00" width="3.00" height="2.00" fill="#277d8e"/>
<rect x="317.00" y="181.00" width="4.00" height="2.00" fill="#1f9c89"/>
<rect x="317.00" y="183.00" width="4.00" height="2.00" fill="#3d4e89"/>
<rect x="317.00" y="185.00" width="4.00" height="2.00" fill="#460e60"/>
<rect x="317.00" y="187.00" width="4.00" height="2.00" fill="#460e60"/>
<rect x="317.00" y="189.00" width="4.00" height="2.00" fill="#cadf95"/>
<rect x="321.00" y="181.00" width="3.00" height="2.00" fill="#9dd055"/>
<rect x="321.00" y="183.00" width="3.00" height="2.00" fill="#460e60"/>
<rect x="321.00" y="185.00" width="3.00" height="2.00" fill="#460e60"/>
<rect x="321.00" y="187.00" width="3.00" height="2.00" fill="#460e60"/>
<rect x="321.00" y="189.00" width="3.00" height="2.00" fill="#f2f6e3"/>
<rect x="324.00" y="183.00" width="4.00" height="2.00" fill="#460e60"/>
<rect x="324.00" y="185.00" width="4.00" height="2.00" fill="#3d4e89"/>
<rect x="324.00" y="187.00" width="4.00" height="2.00" fill="#1f9c89"/>
<rect x="328.00" y="183.00" width="3.00" height="2.00" fill="#cadf95"/>
<rect x="328.00" y="185.00" width="3.00" height="2.00" fill="#277d8e"/>
<rect x="328.00" y="187.00" width="3.00" height="2.00" fill="#460e60"/>
<rect x="328.00" y="189.00" width="3.00" height="2.00" fill="#9dd055"/>
<rect x="331.00" y="187.00" width="4.00" height="2.00" fill="#277d8e"/>
<rect x="331.00" y="189.00" width="4.00" height="2.00" fill="#460e60"/>
<rect x="331.00" y="191.00" width="4.00" height="1.00" fill="#3d4e89"/>
<rect x="331.00" y="192.00" width="4.00" height="2.00" fill="#e1ebc0"/>
<rect x="335.00" y="191.00" width="3.00" height="1.00" fill="#cadf95"/>
<rect x="335.00" y="192.00" width="3.00" height="2.00" fill="#460e60"/>
<rect x="335.00" y="194.00" width="3.00" height="2.00" fill="#460e60"/>
<rect x="335.00" y="196.00" width="3.00" height="2.00" fill="#1f9c89"/>
<rect x="335.00" y="198.00" width="3.00" height="2.00" fill="#e1ebc0"/>
<rect x="338.00" y="194.00" width="4.00" height="2.00" fill="#e1ebc0"/>
<rect x="338.00" y="196.00" width="4.00" height="2.00" fill="#9dd055"/>
<rect x="338.00" y="198.00" width="4.00" height="2.00" fill="#460e60"/>
<rect x="338.00" y="200.00" width="4.00" height="2.00" fill="#277d8e"/>
<rect x="338.00" y="202.00" width="4.00" height="2.00" fill="#277d8e"/>
<rect x="338.00" y="204.00" width="4.00" height="2.00" fill="#9dd055"/>
<rect x="342.00" y="200.00" width="3.00" height="2.00" fill="#e1ebc0"/>
<rect x="342.00" y="202.00" width="3.00" height="2.00" fill="#9dd055"/>
<rect x="342.00" y="204.00" width="3.00" height="2.00" fill="#277d8e"/>
<rect x="342.00" y="206.00" width="3.00" height="2.00" fill="#460e60"/>
<rect x="342.00" y="208.00" width="3.00" height="2.00" fill="#460e60"/>
<rect x="342.00" y="210.00" width="3.00" height="2.00" fill="#277d8e"/>
<rect x="345.00" y="206.00" width="4.00" height="2.00" fill="#e1ebc0"/>
<rect x="345.00" y="208.00" width="4.00" height="2.00" fill="#cadf95"/>
<rect x="345.00" y="210.00" width="4.00" height="2.00" fill="#277d8e"/>
<rect x="345.00" y="212.00" width="4.00" height="2.00" fill="#460e60"/>
<rect x="345.00" y="214.00" width="4.00" height="2.00" fill="#1f9c89"/>
<rect x="345.00" y="216.00" width="4.00" height="1.00" fill="#e1ebc0"/>
<rect x="345.00" y="217.00" width="4.00" height="2.00" fill="#e1ebc0"/>
<rect x="349.00" y="212.00" width="3.00" height="2.00" fill="#e1ebc0"/>
<rect x="349.00" y="214.00" width="3.00" height="2.00" fill="#cadf95"/>
<rect x="349.00" y="216.00" width="3.00" height="1.00" fill="#e1ebc0"/>
<rect x="349.00" y="217.00" width="3.00" height="2.00" fill="#9dd055"/>
<rect x="349.00" y="219.00" width="3.00" height="2.00" fill="#277d8e"/>
<rect x="349.00" y="221.00" width="3.00" height="2.00" fill="#1f9c89"/>
<rect x="349.00" y="223.00" width="3.00" height="2.00" fill="#1f9c89"/>
<rect x="352.00" y="217.00" width="3.00" height="2.00" fill="#e1ebc0"/>
<rect x="352.00" y="223.00" width="3.00" height="2.00" fill="#60c059"/>
<rect x="352.00" y="225.00" width="3.00" height="2.00" fill="#460e60"/>
<rect x="352.00" y="227.00" width="3.00" height="2.00" fill="#460e60"/>
<rect x="352.00" y="229.00" width="3.00" height="2.00" fill="#460e60"/>
<rect x="352.00" y="231.00" width="3.00" height="2.00" fill="#277d8e"/>
<rect x="355.00" y="223.00" width="4.00" height="2.00" fill="#e1ebc0"/>
<rect x="355.00" y="225.00" width="4.00" height="2.00" fill="#cadf95"/>
<rect x="355.00" y="231.00" width="4.00" height="2.00" fill="#277d8e"/>
<rect x="355.00" y="233.00" width="4.00" height="2.00" fill="#60c059"/>
<rect x="355.00" y="235.00" width="4.00" height="2.00" fill="#460e60"/>
<rect x="355.00" y="237.00" width="4.00" height="2.00" fill="#3d4e89"/>
<rect x="359.00" y="225.00" width="3.00" height="2.00" fill="#f2f6e3"/>
<rect x="359.00" y="227.00" width="3.00" height="2.00" fill="#cadf95"/>
<rect x="359.00" y="229.00" width="3.00" height="2.00" fill="#f2f6e3"/>
<rect x="359.00" y="231.00" width="3.00" height="2.00" fill="#e1ebc0"/>
<rect x="359.00" y="233.00" width="3.00" height="2.00" fill="#cadf95"/>
<rect x="359.00" y="235.00" width="3.00" height="2.00" fill="#60c059"/>
<rect x="359.00" y="237.00" width="3.00" height="2.00" fill="#30af7a"/>
<rect x="359.00" y="239.00" width="3.00" height="1.00" fill="#3d4e89"/>
<rect x="359.00" y="240.00" width="3.00" height="2.00" fill="#3d4e89"/>
<rect x="359.00" y="242.00" width="3.00" height="2.00" fill="#277d8e"/>
<rect x="359.00" y="244.00" width="3.00" height="2.00" fill="#e1ebc0"/>
<rect x="362.00" y="225.00" width="4.00" height="2.00" fill="#f2f6e3"/>
<rect x="362.00" y="227.00" width="4.00" height="2.00" fill="#cadf95"/>
<rect x="362.00" y="229.00" width="4.00" height="2.00" fill="#f2f6e3"/>
<rect x="362.00" y="231.00" width="4.00" height="2.00" fill="#f2f6e3"/>
<rect x="362.00" y="233.00" width="4.00" height="2.00" fill="#e1ebc0"/>
<rect x="362.00" y="235.00" width="4.00" height="2.00" fill="#cadf95"/>
<rect x="362.00" y="237.00" width="4.00" height="2.00" fill="#60c059"/>
<rect x="362.00" y="239.00" width="4.00" height="1.00" fill="#30af7a"/>
<rect x="362.00" y="240.00" width="4.00" height="2.00" fill="#1f9c89"/>
<rect x="362.00" y="242.00" width="4.00" height="2.00" fill="#1f9c89"/>
<rect x="362.00" y="244.00" width="4.00" height="2.00" fill="#1f9c89"/>
<rect x="362.00" y="246.00" width="4.00" height="2.00" fill="#277d8e"/>
<rect x="362.00" y="248.00" width="4.00" height="2.00" fill="#cadf95"/>
<rect x="366.00" y="223.00" width="3.00" height="2.00" fill="#e1ebc0"/>
<rect x="366.00" y="227.00" width="3.00" height="2.00" fill="#f2f6e3"/>
<rect x="366.00" y="229.00" width="3.00" height="2.00" fill="#cadf95"/>
<rect x="366.00" y="231.00" width="3.00" height="2.00" fill="#f2f6e3"/>
<rect x="366.00" y="233.00" width="3.00" height="2.00" fill="#f2f6e3"/>
<rect x="366.00" y="235.00" width="3.00" height="2.00" fill="#cadf95"/>
<rect x="366.00" y="237.00" width="3.00" height="2.00" fill="#9dd055"/>
<rect x="366.00" y="239.00" width="3.00" height="1.00" fill="#9dd055"/>
<rect x="366.00" y="240.00" width="3.00" height="2.00" fill="#60c059"/>
<rect x="366.00" y="242.00" width="3.00" height="2.00" fill="#60c059"/>
<rect x="366.00" y="244.00" width="3.00" height="2.00" fill="#30af7a"/>
<rect x="366.00" y="246.00" width="3.00" height="2.00" fill="#60c059"/>
<rect x="366.00" y="248.00" width="3.00" height="2.00" fill="#60c059"/>
<rect x="366.00" y="250.00" width="3.00" height="2.00" fill="#3d4e89"/>
<rect x="366.00" y="252.00" width="3.00" height="2.00" fill="#f2f6e3"/>
<rect x="369.00" y="219.00" width="4.00" height="2.00" fill="#e1ebc0"/>
<rect x="369.00" y="227.00" width="4.00" height="2.00" fill="#f2f6e3"/>
<rect x="369.00" y="229.00" width="4.00" height="2.00" fill="#f2f6e3"/>
<rect x="369.00" y="231.00" width="4.00" height="2.00" fill="#f2f6e3"/>
<rect x="369.00" y="233.00" width="4.00" height="2.00" fill="#9dd055"/>
<rect x="369.00" y="235.00" width="4.00" height="2.00" fill="#cadf95"/>
<rect x="369.00" y="237.00" width="4.00" height="2.00" fill="#f2f6e3"/>
<rect x="369.00" y="239.00" width="4.00" height="1.00" fill="#60c059"/>
<rect x="369.00" y="240.00" width="4.00" height="2.00" fill="#60c059"/>
<rect x="369.00" y="242.00" width="4.00" height="2.00" fill="#9dd055"/>
<rect x="369.00" y="244.00" width="4.00" height="2.00" fill="#9dd055"/>
<rect x="369.00" y="246.00" width="4.00" height="2.00" fill="#9dd055"/>
<rect x="369.00" y="248.00" width="4.00" height="2.00" fill="#9dd055"/>
<rect x="369.00" y="250.00" width="4.00" height="2.00" fill="#cadf95"/>
<rect x="369.00" y="252.00" width="4.00" height="2.00" fill="#30af7a"/>
<rect x="369.00" y="254.00" width="4.00" height="2.00" fill="#460e60"/>
<rect x="373.00" y="216.00" width="3.00" height="1.00" fill="#f2f6e3"/>
<rect x="373.00" y="225.00" width="3.00" height="2.00" fill="#e1ebc0"/>
<rect x="373.00" y="227.00" width="3.00" height="2.00" fill="#f2f6e3"/>
<rect x="373.00" y="229.00" width="3.00" height="2.00" fill="#f2f6e3"/>
<rect x="373.00" y="231.00" width="3.00" height="2.00" fill="#f2f6e3"/>
<rect x="373.00" y="233.00" width="3.00" height="2.00" fill="#cadf95"/>
<rect x="373.00" y="235.00" width="3.00" height="2.00" fill="#cadf95"/>
<rect x="373.00" y="237.00" width="3.00" height="2.00" fill="#f2f6e3"/>
<rect x="373.00" y="239.00" width="3.00" height="1.00" fill="#f2f6e3"/>
<rect x="373.00" y="240.00" width="3.00" height="2.00" fill="#f2f6e3"/>
<rect x="373.00" y="242.00" width="3.00" height="2.00" fill="#60c059"/>
<rect x="373.00" y="244.00" width="3.00" height="2.00" fill="#9dd055"/>
<rect x="373.00" y="246.00" width="3.00" height="2.00" fill="#9dd055"/>
<rect x="373.00" y="248.00" width="3.00" height="2.00" fill="#cadf95"/>
<rect x="373.00" y="250.00" width="3.00" height="2.00" fill="#9dd055"/>
<rect x="373.00" y="252.00" width="3.00" height="2.00" fill="#f2f6e3"/>
<rect x="373.00" y="254.00" width="3.00" height="2.00" fill="#cadf95"/>
<rect x="373.00" y="256.00" width="3.00" height="2.00" fill="#30af7a"/>
<rect x="373.00" y="258.00" width="3.00" height="2.00" fill="#cadf95"/>
<rect x="373.00" y="260.00" width="3.00" height="2.00" fill="#60c059"/>
<rect x="376.00" y="214.00" width="4.00" height="2.00" fill="#e1ebc0"/>
<rect x="376.00" y="223.00" width="4.00" height="2.00" fill="#e1ebc0"/>
<rect x="376.00" y="225.00" width="4.00" height="2.00" fill="#f2f6e3"/>
<rect x="376.00" y="229.00" width="4.00" height="2.00" fill="#f2f6e3"/>
<rect x="376.00" y="233.00" width="4.00" height="2.00" fill="#f2f6e3"/>
<rect x="376.00" y="235.00" width="4.00" height="2.00" fill="#cadf95"/>
<rect x="376.00" y="237.00" width="4.00" height="2.00" fill="#f2f6e3"/>
<rect x="376.00" y="239.00" width="4.00" height="1.00" fill="#f2f6e3"/>
<rect x="376.00" y="240.00" width="4.00" height="2.00" fill="#f2f6e3"/>
<rect x="376.00" y="242.00" width="4.00" height="2.00" fill="#f2f6e3"/>
<rect x="376.00" y="244.00" width="4.00" height="2.00" fill="#60c059"/>
<rect x="376.00" y="246.00" width="4.00" height="2.00" fill="#e1ebc0"/>
<rect x="376.00" y="248.00" width="4.00" height="2.00" fill="#cadf95"/>
<rect x="376.00" y="250.00" width="4.00" height="2.00" fill="#cadf95"/>
<rect x="376.00" y="252.00" width="4.00" height="2.00" fill="#e1ebc0"/>
<rect x="376.00" y="254.00" width="4.00" height="2.00" fill="#cadf95"/>
<rect x="376.00" y="256.00" width="4.00" height="2.00" fill="#cadf95"/>
<rect x="376.00" y="258.00" width="4.00" height="2.00" fill="#cadf95"/>
<rect x="376.00" y="260.00" width="4.00" height="2.00" fill="#cadf95"/>
<rect x="376.00" y="262.00" width="4.00" height="2.00" fill="#277d8e"/>
<rect x="376.00" y="264.00" width="4.00" height="1.00" fill="#f2f6e3"/>
<rect x="376.00" y="265.00" width="4.00" height="2.00" fill="#f2f6e3"/>
<rect x="380.00" y="223.00" width="3.00" height="2.00" fill="#e1ebc0"/>
<rect x="380.00" y="229.00" width="3.00" height="2.00" fill="#f2f6e3"/>
<rect x="380.00" y="235.00" width="3.00" height="2.00" fill="#f2f6e3"/>
<rect x="380.00" y="242.00" width="3.00" height="2.00" fill="#e1ebc0"/>
<rect x="380.00" y="246.00" width="3.00" height="2.00" fill="#f2f6e3"/>
<rect x="380.00" y="248.00" width="3.00" height="2.00" fill="#9dd055"/>
<rect x="380.00" y="250.00" width="3.00" height="2.00" fill="#e1ebc0"/>
<rect x="380.00" y="252.00" width="3.00" height="2.00" fill="#cadf95"/>
<rect x="380.00" y="254.00" width="3.00" height="2.00" fill="#cadf95"/>
<rect x="380.00" y="256.00" width="3.00" height="2.00" fill="#e1ebc0"/>
<rect x="380.00" y="258.00" width="3.00" height="2.00" fill="#e1ebc0"/>
<rect x="380.00" y="260.00" width="3.00" height="2.00" fill="#e1ebc0"/>
<rect x="380.00" y="262.00" width="3.00" height="2.00" fill="#e1ebc0"/>
<rect x="380.00" y="264.00" width="3.00" height="1.00" fill="#277d8e"/>
<rect x="380.00" y="265.00" width="3.00" height="2.00" fill="#277d8e"/>
<rect x="380.00" y="267.00" width="3.00" height="2.00" fill="#cadf95"/>
<rect x="380.00" y="269.00" width="3.00" height="2.00" fill="#cadf95"/>
<rect x="383.00" y="212.00" width="4.00" height="2.00" fill="#e1ebc0"/>
<rect x="383.00" y="221.00" width="4.00" height="2.00" fill="#f2f6e3"/>
<rect x="383.00" y="237.00" width="4.00" height="2.00" fill="#e1ebc0"/>
<rect x="383.00" y="244.00" width="4.00" height="2.00" fill="#f2f6e3"/>
<rect x="383.00" y="246.00" width="4.00" height="2.00" fill="#e1ebc0"/>
<rect x="383.00" y="248.00" width="4.00" height="2.00" fill="#9dd055"/>
<rect x="383.00" y="250.00" width="4.00" height="2.00" fill="#e1ebc0"/>
<rect x="383.00" y="252.00" width="4.00" height="2.00" fill="#9dd055"/>
<rect x="383.00" y="254.00" width="4.00" height="2.00" fill="#f2f6e3"/>
<rect x="383.00" y="256.00" width="4.00" height="2.00" fill="#f2f6e3"/>
<rect x="383.00" y="258.00" width="4.00" height="2.00" fill="#e1ebc0"/>
<rect x="383.00" y="260.00" width="4.00" height="2.00" fill="#e1ebc0"/>
<rect x="383.00" y="262.00" width="4.00" height="2.00" fill="#e1ebc0"/>
<rect x="383.00" y="264.00" width="4.00" height="1.00" fill="#e1ebc0"/>
<rect x="383.00" y="265.00" width="4.00" height="2.00" fill="#e1ebc0"/>
<rect x="383.00" y="267.00" width="4.00" height="2.00" fill="#30af7a"/>
<rect x="383.00" y="269.00" width="4.00" height="2.00" fill="#30af7a"/>
<rect x="383.00" y="271.00" width="4.00" height="2.00" fill="#30af7a"/>
<rect x="383.00" y="273.00" width="4.00" height="2.00" fill="#cadf95"/>
<rect x="387.00" y="223.00" width="3.00" height="2.00" fill="#f2f6e3"/>
<rect x="387.00" y="239.00" width="3.00" height="1.00" fill="#f2f6e3"/>
<rect x="387.00" y="244.00" width="3.00" height="2.00" fill="#f2f6e3"/>
<rect x="387.00" y="246.00" width="3.00" height="2.00" fill="#f2f6e3"/>
<rect x="387.00" y="248.00" width="3.00" height="2.00" fill="#f2f6e3"/>
<rect x="387.00" y="250.00" width="3.00" height="2.00" fill="#9dd055"/>
<rect x="387.00" y="252.00" width="3.00" height="2.00" fill="#cadf95"/>
<rect x="387.00" y="254.00" width="3.00" height="2.00" fill="#60c059"/>
<rect x="387.00" y="256.00" width="3.00" height="2.00" fill="#f2f6e3"/>
<rect x="387.00" y="258.00" width="3.00" height="2.00" fill="#e1ebc0"/>
<rect x="387.00" y="260.00" width="3.00" height="2.00" fill="#f2f6e3"/>
<rect x="387.00" y="262.00" width="3.00" height="2.00" fill="#f2f6e3"/>
<rect x="387.00" y="264.00" width="3.00" height="1.00" fill="#e1ebc0"/>
<rect x="387.00" y="265.00" width="3.00" height="2.00" fill="#e1ebc0"/>
<rect x="387.00" y="267.00" width="3.00" height="2.00" fill="#f2f6e3"/>
<rect x="387.00" y="269.00" width="3.00" height="2.00" fill="#f2f6e3"/>
<rect x="387.00" y="271.00" width="3.00" height="2.00" fill="#30af7a"/>
<rect x="387.00" y="273.00" width="3.00" height="2.00" fill="#277d8e"/>
<rect x="387.00" y="275.00" width="3.00" height="2.00" fill="#f2f6e3"/>
<rect x="387.00" y="277.00" width="3.00" height="2.00" fill="#cadf95"/>
<rect x="390.00" y="223.00" width="4.00" height="2.00" fill="#f2f6e3"/>
<rect x="390.00" y="227.00" width="4.00" height="2.00" fill="#f2f6e3"/>
<rect x="390.00" y="244.00" width="4.00" height="2.00" fill="#f2f6e3"/>
<rect x="390.00" y="248.00" width="4.00" height="2.00" fill="#e1ebc0"/>
<rect x="390.00" y="250.00" width="4.00" height="2.00" fill="#f2f6e3"/>
<rect x="390.00" y="254.00" width="4.00" height="2.00" fill="#f2f6e3"/>
<rect x="390.00" y="258.00" width="4.00" height="2.00" fill="#9dd055"/>
<rect x="390.00" y="260.00" width="4.00" height="2.00" fill="#9dd055"/>
<rect x="390.00" y="262.00" width="4.00" height="2.00" fill="#e1ebc0"/>
<rect x="390.00" y="264.00" width="4.00" height="1.00" fill="#f2f6e3"/>
<rect x="390.00" y="265.00" width="4.00" height="2.00" fill="#e1ebc0"/>
<rect x="390.00" y="267.00" width="4.00" height="2.00" fill="#e1ebc0"/>
<rect x="390.00" y="269.00" width="4.00" height="2.00" fill="#e1ebc0"/>
<rect x="390.00" y="271.00" width="4.00" height="2.00" fill="#e1ebc0"/>
<rect x="390.00" y="273.00" width="4.00" height="2.00" fill="#9dd055"/>
<rect x="390.00" y="275.00" width="4.00" height="2.00" fill="#30af7a"/>
<rect x="390.00" y="277.00" width="4.00" height="2.00" fill="#1f9c89"/>
<rect x="390.00" y="279.00" width="4.00" height="2.00" fill="#f2f6e3"/>
<rect x="390.00" y="281.00" width="4.00" height="2.00" fill="#e1ebc0"/>
<rect x="390.00" y="283.00" width="4.00" height="2.00" fill="#f2f6e3"/>
<rect x="390.00" y="285.00" width="4.00" height="2.00" fill="#f2f6e3"/>
<rect x="394.00" y="231.00" width="3.00" height="2.00" fill="#f2f6e3"/>
<rect x="394.00" y="235.00" width="3.00" height="2.00" fill="#f2f6e3"/>
<rect x="394.00" y="244.00" width="3.00" height="2.00" fill="#f2f6e3"/>
<rect x="394.00" y="248.00" width="3.00" height="2.00" fill="#e1ebc0"/>
<rect x="394.00" y="252.00" width="3.00" height="2.00" fill="#e1ebc0"/>
<rect x="394.00" y="256.00" width="3.00" height="2.00" fill="#f2f6e3"/>
<rect x="394.00" y="260.00" width="3.00" height="2.00" fill="#f2f6e3"/>
<rect x="394.00" y="262.00" width="3.00" height="2.00" fill="#cadf95"/>
<rect x="394.00" y="264.00" width="3.00" height="1.00" fill="#cadf95"/>
<rect x="394.00" y="265.00" width="3.00" height="2.00" fill="#e1ebc0"/>
<rect x="394.00" y="267.00" width="3.00" height="2.00" fill="#f2f6e3"/>
<rect x="394.00" y="269.00" width="3.00" height="2.00" fill="#cadf95"/>
<rect x="394.00" y="271.00" width="3.00" height="2.00" fill="#9dd055"/>
<rect x="394.00" y="273.00" width="3.00" height="2.00" fill="#9dd055"/>
<rect x="394.00" y="275.00" width="3.00" height="2.00" fill="#9dd055"/>
<rect x="394.00" y="277.00" width="3.00" height="2.00" fill="#1f9c89"/>
<rect x="394.00" y="279.00" width="3.00" height="2.00" fill="#e1ebc0"/>
<rect x="394.00" y="281.00" width="3.00" height="2.00" fill="#e1ebc0"/>
<rect x="394.00" y="283.00" width="3.00" height="2.00" fill="#e1ebc0"/>
<rect x="394.00" y="285.00" width="3.00" height="2.00" fill="#f2f6e3"/>
<rect x="394.00" y="287.00" width="3.00" height="1.00" fill="#f2f6e3"/>
<rect x="397.00" y="237.00" width="4.00" height="2.00" fill="#f2f6e3"/>
<rect x="397.00" y="239.00" width="4.00" height="1.00" fill="#f2f6e3"/>
<rect x="397.00" y="250.00" width="4.00" height="2.00" fill="#f2f6e3"/>
<rect x="397.00" y="252.00" width="4.00" height="2.00" fill="#e1ebc0"/>
<rect x="397.00" y="260.00" width="4.00" height="2.00" fill="#f2f6e3"/>
<rect x="397.00" y="265.00" width="4.00" height="2.00" fill="#60c059"/>
<rect x="397.00" y="267.00" width="4.00" height="2.00" fill="#f2f6e3"/>
<rect x="397.00" y="269.00" width="4.00" height="2.00" fill="#e1ebc0"/>
<rect x="397.00" y="271.00" width="4.00" height="2.00" fill="#9dd055"/>
<rect x="397.00" y="273.00" width="4.00" height="2.00" fill="#9dd055"/>
<rect x="397.00" y="275.00" width="4.00" height="2.00" fill="#9dd055"/>
<rect x="397.00" y="277.00" width="4.00" height="2.00" fill="#1f9c89"/>
<rect x="397.00" y="279.00" width="4.00" height="2.00" fill="#1f9c89"/>
<rect x="397.00" y="281.00" width="4.00" height="2.00" fill="#9dd055"/>
<rect x="397.00" y="283.00" width="4.00" height="2.00" fill="#e1ebc0"/>
<rect x="397.00" y="285.00" width="4.00" height="2.00" fill="#e1ebc0"/>
<rect x="397.00" y="287.00" width="4.00" height="1.00" fill="#f2f6e3"/>
<rect x="397.00" y="288.00" width="4.00" height="2.00" fill="#f2f6e3"/>
<rect x="401.00" y="242.00" width="3.00" height="2.00" fill="#f2f6e3"/>
<rect x="401.00" y="244.00" width="3.00" height="2.00" fill="#e1ebc0"/>
<rect x="401.00" y="250.00" width="3.00" height="2.00" fill="#f2f6e3"/>
<rect x="401.00" y="252.00" width="3.00" height="2.00" fill="#f2f6e3"/>
<rect x="401.00" y="265.00" width="3.00" height="2.00" fill="#e1ebc0"/>
<rect x="401.00" y="267.00" width="3.00" height="2.00" fill="#f2f6e3"/>
<rect x="401.00" y="269.00" width="3.00" height="2.00" fill="#9dd055"/>
<rect x="401.00" y="271.00" width="3.00" height="2.00" fill="#e1ebc0"/>
<rect x="401.00" y="273.00" width="3.00" height="2.00" fill="#60c059"/>
<rect x="401.00" y="275.00" width="3.00" height="2.00" fill="#9dd055"/>
<rect x="401.00" y="277.00" width="3.00" height="2.00" fill="#460e60"/>
<rect x="401.00" y="279.00" width="3.00" height="2.00" fill="#30af7a"/>
<rect x="401.00" y="281.00" width="3.00" height="2.00" fill="#30af7a"/>
<rect x="401.00" y="283.00" width="3.00" height="2.00" fill="#e1ebc0"/>
<rect x="401.00" y="285.00" width="3.00" height="2.00" fill="#f2f6e3"/>
<rect x="401.00" y="287.00" width="3.00" height="1.00" fill="#f2f6e3"/>
<rect x="401.00" y="288.00" width="3.00" height="2.00" fill="#f2f6e3"/>
<rect x="404.00" y="246.00" width="3.00" height="2.00" fill="#f2f6e3"/>
<rect x="404.00" y="248.00" width="3.00" height="2.00" fill="#f2f6e3"/>
<rect x="404.00" y="254.00" width="3.00" height="2.00" fill="#f2f6e3"/>
<rect x="404.00" y="256.00" width="3.00" height="2.00" fill="#e1ebc0"/>
<rect x="404.00" y="267.00" width="3.00" height="2.00" fill="#e1ebc0"/>
<rect x="404.00" y="271.00" width="3.00" height="2.00" fill="#cadf95"/>
<rect x="404.00" y="273.00" width="3.00" height="2.00" fill="#cadf95"/>
<rect x="404.00" y="275.00" width="3.00" height="2.00" fill="#60c059"/>
<rect x="404.00" y="277.00" width="3.00" height="2.00" fill="#277d8e"/>
<rect x="404.00" y="279.00" width="3.00" height="2.00" fill="#277d8e"/>
<rect x="404.00" y="281.00" width="3.00" height="2.00" fill="#60c059"/>
<rect x="404.00" y="283.00" width="3.00" height="2.00" fill="#e1ebc0"/>
<rect x="404.00" y="285.00" width="3.00" height="2.00" fill="#f2f6e3"/>
<rect x="404.00" y="287.00" width="3.00" height="1.00" fill="#f2f6e3"/>
<rect x="404.00" y="288.00" width="3.00" height="2.00" fill="#f2f6e3"/>
<rect x="407.00" y="250.00" width="4.00" height="2.00" fill="#f2f6e3"/>
<rect x="407.00" y="256.00" width="4.00" height="2.00" fill="#e1ebc0"/>
<rect x="407.00" y="271.00" width="4.00" height="2.00" fill="#cadf95"/>
<rect x="407.00" y="273.00" width="4.00" height="2.00" fill="#cadf95"/>
<rect x="407.00" y="275.00" width="4.00" height="2.00" fill="#30af7a"/>
<rect x="407.00" y="277.00" width="4.00" height="2.00" fill="#460e60"/>
<rect x="407.00" y="279.00" width="4.00" height="2.00" fill="#1f9c89"/>
<rect x="407.00" y="281.00" width="4.00" height="2.00" fill="#60c059"/>
<rect x="407.00" y="283.00" width="4.00" height="2.00" fill="#f2f6e3"/>
<rect x="407.00" y="285.00" width="4.00" height="2.00" fill="#e1ebc0"/>
<rect x="407.00" y="287.00" width="4.00" height="1.00" fill="#f2f6e3"/>
<rect x="407.00" y="288.00" width="4.00" height="2.00" fill="#f2f6e3"/>
<rect x="407.00" y="290.00" width="4.00" height="2.00" fill="#f2f6e3"/>
<rect x="411.00" y="254.00" width="3.00" height="2.00" fill="#e1ebc0"/>
<rect x="411.00" y="256.00" width="3.00" height="2.00" fill="#cadf95"/>
<rect x="411.00" y="258.00" width="3.00" height="2.00" fill="#f2f6e3"/>
<rect x="411.00" y="271.00" width="3.00" height="2.00" fill="#cadf95"/>
<rect x="411.00" y="273.00" width="3.00" height="2.00" fill="#cadf95"/>
<rect x="411.00" y="275.00" width="3.00" height="2.00" fill="#30af7a"/>
<rect x="411.00" y="277.00" width="3.00" height="2.00" fill="#460e60"/>
<rect x="411.00" y="279.00" width="3.00" height="2.00" fill="#277d8e"/>
<rect x="411.00" y="281.00" width="3.00" height="2.00" fill="#60c059"/>
<rect x="411.00" y="283.00" width="3.00" height="2.00" fill="#f2f6e3"/>
<rect x="411.00" y="285.00" width="3.00" height="2.00" fill="#f2f6e3"/>
<rect x="411.00" y="287.00" width="3.00" height="1.00" fill="#f2f6e3"/>
<rect x="411.00" y="288.00" width="3.00" height="2.00" fill="#f2f6e3"/>
<rect x="411.00" y="290.00" width="3.00" height="2.00" fill="#f2f6e3"/>
<rect x="414.00" y="256.00" width="4.00" height="2.00" fill="#e1ebc0"/>
<rect x="414.00" y="260.00" width="4.00" height="2.00" fill="#f2f6e3"/>
<rect x="414.00" y="271.00" width="4.00" height="2.00" fill="#cadf95"/>
<rect x="414.00" y="273.00" width="4.00" height="2.00" fill="#cadf95"/>
<rect x="414.00" y="275.00" width="4.00" height="2.00" fill="#30af7a"/>
<rect x="414.00" y="277.00" width="4.00" height="2.00" fill="#460e60"/>
<rect x="414.00" y="279.00" width="4.00" height="2.00" fill="#277d8e"/>
<rect x="414.00" y="281.00" width="4.00" height="2.00" fill="#cadf95"/>
<rect x="414.00" y="283.00" width="4.00" height="2.00" fill="#f2f6e3"/>
<rect x="414.00" y="285.00" width="4.00" height="2.00" fill="#f2f6e3"/>
<rect x="414.00" y="287.00" width="4.00" height="1.00" fill="#f2f6e3"/>
<rect x="414.00" y="288.00" width="4.00" height="2.00" fill="#e1ebc0"/>
<rect x="414.00" y="290.00" width="4.00" height="2.00" fill="#f2f6e3"/>
<rect x="418.00" y="262.00" width="3.00" height="2.00" fill="#f2f6e3"/>
<rect x="418.00" y="264.00" width="3.00" height="1.00" fill="#f2f6e3"/>
<rect x="418.00" y="265.00" width="3.00" height="2.00" fill="#f2f6e3"/>
<rect x="418.00" y="267.00" width="3.00" height="2.00" fill="#f2f6e3"/>
<rect x="418.00" y="269.00" width="3.00" height="2.00" fill="#f2f6e3"/>
<rect x="418.00" y="271.00" width="3.00" height="2.00" fill="#e1ebc0"/>
<rect x="418.00" y="273.00" width="3.00" height="2.00" fill="#9dd055"/>
<rect x="418.00" y="275.00" width="3.00" height="2.00" fill="#30af7a"/>
<rect x="418.00" y="277.00" width="3.00" height="2.00" fill="#3d4e89"/>
<rect x="418.00" y="279.00" width="3.00" height="2.00" fill="#1f9c89"/>
<rect x="418.00" y="281.00" width="3.00" height="2.00" fill="#e1ebc0"/>
<rect x="418.00" y="283.00" width="3.00" height="2.00" fill="#e1ebc0"/>
<rect x="418.00" y="285.00" width="3.00" height="2.00" fill="#f2f6e3"/>
<rect x="421.00" y="260.00" width="4.00" height="2.00" fill="#f2f6e3"/>
<rect x="421.00" y="262.00" width="4.00" height="2.00" fill="#f2f6e3"/>
<rect x="421.00" y="264.00" width="4.00" height="1.00" fill="#f2f6e3"/>
<rect x="421.00" y="265.00" width="4.00" height="2.00" fill="#f2f6e3"/>
<rect x="421.00" y="267.00" width="4.00" height="2.00" fill="#e1ebc0"/>
<rect x="421.00" y="269.00" width="4.00" height="2.00" fill="#f2f6e3"/>
<rect x="421.00" y="271.00" width="4.00" height="2.00" fill="#f2f6e3"/>
<rect x="421.00" y="273.00" width="4.00" height="2.00" fill="#30af7a"/>
<rect x="421.00" y="275.00" width="4.00" height="2.00" fill="#1f9c89"/>
<rect x="421.00" y="277.00" width="4.00" height="2.00" fill="#277d8e"/>
<rect x="421.00" y="279.00" width="4.00" height="2.00" fill="#60c059"/>
<rect x="421.00" y="281.00" width="4.00" height="2.00" fill="#e1ebc0"/>
<rect x="421.00" y="283.00" width="4.00" height="2.00" fill="#e1ebc0"/>
<rect x="421.00" y="285.00" width="4.00" height="2.00" fill="#f2f6e3"/>
<rect x="425.00" y="262.00" width="3.00" height="2.00" fill="#f2f6e3"/>
<rect x="425.00" y="264.00" width="3.00" height="1.00" fill="#f2f6e3"/>
<rect x="425.00" y="265.00" width="3.00" height="2.00" fill="#f2f6e3"/>
<rect x="425.00" y="267.00" width="3.00" height="2.00" fill="#f2f6e3"/>
<rect x="425.00" y="269.00" width="3.00" height="2.00" fill="#f2f6e3"/>
<rect x="425.00" y="271.00" width="3.00" height="2.00" fill="#f2f6e3"/>
<rect x="425.00" y="273.00" width="3.00" height="2.00" fill="#1f9c89"/>
<rect x="425.00" y="275.00" width="3.00" height="2.00" fill="#277d8e"/>
<rect x="425.00" y="277.00" width="3.00" height="2.00" fill="#277d8e"/>
<rect x="425.00" y="279.00" width="3.00" height="2.00" fill="#9dd055"/>
<rect x="425.00" y="281.00" width="3.00" height="2.00" fill="#e1ebc0"/>
<rect x="425.00" y="283.00" width="3.00" height="2.00" fill="#f2f6e3"/>
<rect x="425.00" y="285.00" width="3.00" height="2.00" fill="#f2f6e3"/>
<rect x="428.00" y="265.00" width="4.00" height="2.00" fill="#f2f6e3"/>
<rect x="428.00" y="271.00" width="4.00" height="2.00" fill="#30af7a"/>
<rect x="428.00" y="273.00" width="4.00" height="2.00" fill="#1f9c89"/>
<rect x="428.00" y="275.00" width="4.00" height="2.00" fill="#277d8e"/>
<rect x="428.00" y="277.00" width="4.00" height="2.00" fill="#30af7a"/>
<rect x="428.00" y="279.00" width="4.00" height="2.00" fill="#cadf95"/>
<rect x="428.00" y="281.00" width="4.00" height="2.00" fill="#e1ebc0"/>
<rect x="428.00" y="283.00" width="4.00" height="2.00" fill="#f2f6e3"/>
<rect x="428.00" y="285.00" width="4.00" height="2.00" fill="#f2f6e3"/>
<rect x="432.00" y="262.00" width="3.00" height="2.00" fill="#e1ebc0"/>
<rect x="432.00" y="264.00" width="3.00" height="1.00" fill="#cadf95"/>
<rect x="432.00" y="265.00" width="3.00" height="2.00" fill="#cadf95"/>
<rect x="432.00" y="269.00" width="3.00" height="2.00" fill="#60c059"/>
<rect x="432.00" y="271.00" width="3.00" height="2.00" fill="#1f9c89"/>
<rect x="432.00" y="273.00" width="3.00" height="2.00" fill="#277d8e"/>
<rect x="432.00" y="275.00" width="3.00" height="2.00" fill="#3d4e89"/>
<rect x="432.00" y="277.00" width="3.00" height="2.00" fill="#60c059"/>
<rect x="432.00" y="279.00" width="3.00" height="2.00" fill="#e1ebc0"/>
<rect x="432.00" y="281.00" width="3.00" height="2.00" fill="#e1ebc0"/>
<rect x="432.00" y="283.00" width="3.00" height="2.00" fill="#e1ebc0"/>
<rect x="435.00" y="265.00" width="4.00" height="2.00" fill="#e1ebc0"/>
<rect x="435.00" y="267.00" width="4.00" height="2.00" fill="#e1ebc0"/>
<rect x="435.00" y="269.00" width="4.00" height="2.00" fill="#277d8e"/>
<rect x="435.00" y="271.00" width="4.00" height="2.00" fill="#277d8e"/>
<rect x="435.00" y="273.00" width="4.00" height="2.00" fill="#460e60"/>
<rect x="435.00" y="275.00" width="4.00" height="2.00" fill="#9dd055"/>
<rect x="435.00" y="277.00" width="4.00" height="2.00" fill="#cadf95"/>
<rect x="435.00" y="279.00" width="4.00" height="2.00" fill="#f2f6e3"/>
<rect x="435.00" y="281.00" width="4.00" height="2.00" fill="#e1ebc0"/>
<rect x="435.00" y="283.00" width="4.00" height="2.00" fill="#f2f6e3"/>
<rect x="439.00" y="264.00" width="3.00" height="1.00" fill="#f2f6e3"/>
<rect x="439.00" y="265.00" width="3.00" height="2.00" fill="#cadf95"/>
<rect x="439.00" y="267.00" width="3.00" height="2.00" fill="#30af7a"/>
<rect x="439.00" y="269.00" width="3.00" height="2.00" fill="#460e60"/>
<rect x="439.00" y="271.00" width="3.00" height="2.00" fill="#277d8e"/>
<rect x="439.00" y="273.00" width="3.00" height="2.00" fill="#1f9c89"/>
<rect x="439.00" y="275.00" width="3.00" height="2.00" fill="#60c059"/>
<rect x="439.00" y="277.00" width="3.00" height="2.00" fill="#f2f6e3"/>
<rect x="439.00" y="279.00" width="3.00" height="2.00" fill="#e1ebc0"/>
<rect x="439.00" y="281.00" width="3.00" height="2.00" fill="#f2f6e3"/>
<rect x="442.00" y="262.00" width="4.00" height="2.00" fill="#cadf95"/>
<rect x="442.00" y="264.00" width="4.00" height="1.00" fill="#1f9c89"/>
<rect x="442.00" y="265.00" width="4.00" height="2.00" fill="#460e60"/>
<rect x="442.00" y="267.00" width="4.00" height="2.00" fill="#277d8e"/>
<rect x="442.00" y="269.00" width="4.00" height="2.00" fill="#1f9c89"/>
<rect x="442.00" y="271.00" width="4.00" height="2.00" fill="#60c059"/>
<rect x="442.00" y="273.00" width="4.00" height="2.00" fill="#e1ebc0"/>
<rect x="446.00" y="260.00" width="3.00" height="2.00" fill="#f2f6e3"/>
<rect x="446.00" y="262.00" width="3.00" height="2.00" fill="#e1ebc0"/>
<rect x="446.00" y="264.00" width="3.00" height="1.00" fill="#1f9c89"/>
<rect x="446.00" y="265.00" width="3.00" height="2.00" fill="#460e60"/>
<rect x="446.00" y="267.00" width="3.00" height="2.00" fill="#277d8e"/>
<rect x="446.00" y="269.00" width="3.00" height="2.00" fill="#30af7a"/>
<rect x="446.00" y="271.00" width="3.00" height="2.00" fill="#cadf95"/>
<rect x="449.00" y="258.00" width="4.00" height="2.00" fill="#9dd055"/>
<rect x="449.00" y="260.00" width="4.00" height="2.00" fill="#277d8e"/>
<rect x="449.00" y="262.00" width="4.00" height="2.00" fill="#460e60"/>
<rect x="449.00" y="264.00" width="4.00" height="1.00" fill="#30af7a"/>
<rect x="449.00" y="265.00" width="4.00" height="2.00" fill="#30af7a"/>
<rect x="449.00" y="267.00" width="4.00" height="2.00" fill="#e1ebc0"/>
<rect x="453.00" y="258.00" width="3.00" height="2.00" fill="#9dd055"/>
<rect x="453.00" y="260.00" width="3.00" height="2.00" fill="#277d8e"/>
<rect x="453.00" y="262.00" width="3.00" height="2.00" fill="#460e60"/>
<rect x="453.00" y="264.00" width="3.00" height="1.00" fill="#30af7a"/>
<rect x="453.00" y="265.00" width="3.00" height="2.00" fill="#30af7a"/>
<rect x="453.00" y="267.00" width="3.00" height="2.00" fill="#e1ebc0"/>
<rect x="456.00" y="254.00" width="4.00" height="2.00" fill="#e1ebc0"/>
<rect x="456.00" y="256.00" width="4.00" height="2.00" fill="#1f9c89"/>
<rect x="456.00" y="258.00" width="4.00" height="2.00" fill="#3d4e89"/>
<rect x="456.00" y="260.00" width="4.00" height="2.00" fill="#460e60"/>
<rect x="456.00" y="262.00" width="4.00" height="2.00" fill="#1f9c89"/>
<rect x="456.00" y="264.00" width="4.00" height="1.00" fill="#9dd055"/>
<rect x="456.00" y="265.00" width="4.00" height="2.00" fill="#f2f6e3"/>
<rect x="460.00" y="254.00" width="3.00" height="2.00" fill="#e1ebc0"/>
<rect x="460.00" y="256.00" width="3.00" height="2.00" fill="#1f9c89"/>
<rect x="460.00" y="258.00" width="3.00" height="2.00" fill="#3d4e89"/>
<rect x="460.00" y="260.00" width="3.00" height="2.00" fill="#460e60"/>
<rect x="460.00" y="262.00" width="3.00" height="2.00" fill="#1f9c89"/>
<rect x="460.00" y="264.00" width="3.00" height="1.00" fill="#9dd055"/>
<rect x="460.00" y="265.00" width="3.00" height="2.00" fill="#f2f6e3"/>
<rect x="463.00" y="246.00" width="3.00" height="2.00" fill="#e1ebc0"/>
<rect x="463.00" y="248.00" width="3.00" height="2.00" fill="#60c059"/>
<rect x="463.00" y="250.00" width="3.00" height="2.00" fill="#30af7a"/>
<rect x="463.00" y="252.00" width="3.00" height="2.00" fill="#460e60"/>
<rect x="463.00" y="254.00" width="3.00" height="2.00" fill="#3d4e89"/>
<rect x="463.00" y="256.00" width="3.00" height="2.00" fill="#60c059"/>
<rect x="463.00" y="258.00" width="3.00" height="2.00" fill="#f2f6e3"/>
<rect x="466.00" y="246.00" width="4.00" height="2.00" fill="#e1ebc0"/>
<rect x="466.00" y="248.00" width="4.00" height="2.00" fill="#60c059"/>
<rect x="466.00" y="250.00" width="4.00" height="2.00" fill="#30af7a"/>
<rect x="466.00" y="252.00" width="4.00" height="2.00" fill="#460e60"/>
<rect x="466.00" y="254.00" width="4.00" height="2.00" fill="#3d4e89"/>
<rect x="466.00" y="256.00" width="4.00" height="2.00" fill="#60c059"/>
<rect x="466.00" y="258.00" width="4.00" height="2.00" fill="#f2f6e3"/>
<rect x="470.00" y="240.00" width="3.00" height="2.00" fill="#e1ebc0"/>
<rect x="470.00" y="242.00" width="3.00" height="2.00" fill="#e1ebc0"/>
<rect x="470.00" y="244.00" width="3.00" height="2.00" fill="#30af7a"/>
<rect x="470.00" y="246.00" width="3.00" height="2.00" fill="#277d8e"/>
<rect x="470.00" y="248.00" width="3.00" height="2.00" fill="#3d4e89"/>
<rect x="470.00" y="250.00" width="3.00" height="2.00" fill="#3d4e89"/>
<rect x="470.00" y="252.00" width="3.00" height="2.00" fill="#1f9c89"/>
<rect x="470.00" y="254.00" width="3.00" height="2.00" fill="#cadf95"/>
<rect x="470.00" y="256.00" width="3.00" height="2.00" fill="#e1ebc0"/>
<rect x="473.00" y="240.00" width="4.00" height="2.00" fill="#e1ebc0"/>
<rect x="473.00" y="242.00" width="4.00" height="2.00" fill="#e1ebc0"/>
<rect x="473.00" y="244.00" width="4.00" height="2.00" fill="#30af7a"/>
<rect x="473.00" y="246.00" width="4.00" height="2.00" fill="#60c059"/>
<rect x="473.00" y="248.00" width="4.00" height="2.00" fill="#3d4e89"/>
<rect x="473.00" y="250.00" width="4.00" height="2.00" fill="#460e60"/>
<rect x="473.00" y="252.00" width="4.00" height="2.00" fill="#1f9c89"/>
<rect x="473.00" y="254.00" width="4.00" height="2.00" fill="#cadf95"/>
<rect x="473.00" y="256.00" width="4.00" height="2.00" fill="#e1ebc0"/>
<rect x="477.00" y="229.00" width="3.00" height="2.00" fill="#f2f6e3"/>
<rect x="477.00" y="231.00" width="3.00" height="2.00" fill="#f2f6e3"/>
<rect x="477.00" y="233.00" width="3.00" height="2.00" fill="#cadf95"/>
<rect x="477.00" y="235.00" width="3.00" height="2.00" fill="#60c059"/>
<rect x="477.00" y="237.00" width="3.00" height="2.00" fill="#1f9c89"/>
<rect x="477.00" y="239.00" width="3.00" height="1.00" fill="#277d8e"/>
<rect x="477.00" y="240.00" width="3.00" height="2.00" fill="#1f9c89"/>
<rect x="477.00" y="242.00" width="3.00" height="2.00" fill="#3d4e89"/>
<rect x="477.00" y="244.00" width="3.00" height="2.00" fill="#9dd055"/>
<rect x="477.00" y="246.00" width="3.00" height="2.00" fill="#cadf95"/>
<rect x="477.00" y="248.00" width="3.00" height="2.00" fill="#cadf95"/>
<rect x="480.00" y="229.00" width="4.00" height="2.00" fill="#f2f6e3"/>
<rect x="480.00" y="231.00" width="4.00" height="2.00" fill="#f2f6e3"/>
<rect x="480.00" y="233.00" width="4.00" height="2.00" fill="#cadf95"/>
<rect x="480.00" y="235.00" width="4.00" height="2.00" fill="#60c059"/>
<rect x="480.00" y="237.00" width="4.00" height="2.00" fill="#1f9c89"/>
<rect x="480.00" y="239.00" width="4.00" height="1.00" fill="#277d8e"/>
<rect x="480.00" y="240.00" width="4.00" height="2.00" fill="#1f9c89"/>
<rect x="480.00" y="242.00" width="4.00" height="2.00" fill="#3d4e89"/>
<rect x="480.00" y="244.00" width="4.00" height="2.00" fill="#9dd055"/>
<rect x="480.00" y="246.00" width="4.00" height="2.00" fill="#cadf95"/>
<rect x="480.00" y="248.00" width="4.00" height="2.00" fill="#cadf95"/>
<rect x="484.00" y="229.00" width="3.00" height="2.00" fill="#f2f6e3"/>
<rect x="484.00" y="231.00" width="3.00" height="2.00" fill="#f2f6e3"/>
<rect x="484.00" y="233.00" width="3.00" height="2.00" fill="#cadf95"/>
<rect x="484.00" y="235.00" width="3.00" height="2.00" fill="#60c059"/>
<rect x="484.00" y="237.00" width="3.00" height="2.00" fill="#1f9c89"/>
<rect x="484.00" y="239.00" width="3.00" height="1.00" fill="#277d8e"/>
<rect x="484.00" y="240.00" width="3.00" height="2.00" fill="#1f9c89"/>
<rect x="484.00" y="242.00" width="3.00" height="2.00" fill="#3d4e89"/>
<rect x="484.00" y="244.00" width="3.00" height="2.00" fill="#9dd055"/>
<rect x="484.00" y="246.00" width="3.00" height="2.00" fill="#cadf95"/>
<rect x="484.00" y="248.00" width="3.00" height="2.00" fill="#cadf95"/>
<rect x="487.00" y="229.00" width="4.00" height="2.00" fill="#f2f6e3"/>
<rect x="487.00" y="231.00" width="4.00" height="2.00" fill="#f2f6e3"/>
<rect x="487.00" y="233.00" width="4.00" height="2.00" fill="#cadf95"/>
<rect x="487.00" y="235.00" width="4.00" height="2.00" fill="#60c059"/>
<rect x="487.00" y="237.00" width="4.00" height="2.00" fill="#1f9c89"/>
<rect x="487.00" y="239.00" width="4.00" height="1.00" fill="#277d8e"/>
<rect x="487.00" y="240.00" width="4.00" height="2.00" fill="#1f9c89"/>
<rect x="487.00" y="242.00" width="4.00" height="2.00" fill="#3d4e89"/>
<rect x="487.00" y="244.00" width="4.00" height="2.00" fill="#9dd055"/>
<rect x="487.00" y="246.00" width="4.00" height="2.00" fill="#cadf95"/>
<rect x="487.00" y="248.00" width="4.00" height="2.00" fill="#cadf95"/>
<rect x="491.00" y="225.00" width="3.00" height="2.00" fill="#9dd055"/>
<rect x="491.00" y="227.00" width="3.00" height="2.00" fill="#e1ebc0"/>
<rect x="491.00" y="229.00" width="3.00" height="2.00" fill="#30af7a"/>
<rect x="491.00" y="231.00" width="3.00" height="2.00" fill="#30af7a"/>
<rect x="491.00" y="233.00" width="3.00" height="2.00" fill="#1f9c89"/>
<rect x="491.00" y="235.00" width="3.00" height="2.00" fill="#30af7a"/>
<rect x="491.00" y="237.00" width="3.00" height="2.00" fill="#60c059"/>
<rect x="491.00" y="239.00" width="3.00" height="1.00" fill="#60c059"/>
<rect x="491.00" y="240.00" width="3.00" height="2.00" fill="#60c059"/>
<rect x="491.00" y="242.00" width="3.00" height="2.00" fill="#f2f6e3"/>
<rect x="491.00" y="244.00" width="3.00" height="2.00" fill="#cadf95"/>
<rect x="494.00" y="225.00" width="4.00" height="2.00" fill="#9dd055"/>
<rect x="494.00" y="227.00" width="4.00" height="2.00" fill="#e1ebc0"/>
<rect x="494.00" y="229.00" width="4.00" height="2.00" fill="#30af7a"/>
<rect x="494.00" y="231.00" width="4.00" height="2.00" fill="#30af7a"/>
<rect x="494.00" y="233.00" width="4.00" height="2.00" fill="#1f9c89"/>
<rect x="494.00" y="235.00" width="4.00" height="2.00" fill="#30af7a"/>
<rect x="494.00" y="237.00" width="4.00" height="2.00" fill="#60c059"/>
<rect x="494.00" y="239.00" width="4.00" height="1.00" fill="#60c059"/>
<rect x="494.00" y="240.00" width="4.00" height="2.00" fill="#60c059"/>
<rect x="494.00" y="242.00" width="4.00" height="2.00" fill="#f2f6e3"/>
<rect x="494.00" y="244.00" width="4.00" height="2.00" fill="#cadf95"/>
<rect x="498.00" y="225.00" width="3.00" height="2.00" fill="#9dd055"/>
<rect x="498.00" y="227.00" width="3.00" height="2.00" fill="#e1ebc0"/>
<rect x="498.00" y="229.00" width="3.00" height="2.00" fill="#30af7a"/>
<rect x="498.00" y="231.00" width="3.00" height="2.00" fill="#30af7a"/>
<rect x="498.00" y="233.00" width="3.00" height="2.00" fill="#1f9c89"/>
<rect x="498.00" y="235.00" width="3.00" height="2.00" fill="#30af7a"/>
<rect x="498.00" y="237.00" width="3.00" height="2.00" fill="#60c059"/>
<rect x="498.00" y="239.00" width="3.00" height="1.00" fill="#60c059"/>
<rect x="498.00" y="240.00" width="3.00" height="2.00" fill="#60c059"/>
<rect x="498.00" y="242.00" width="3.00" height="2.00" fill="#f2f6e3"/>
<rect x="498.00" y="244.00" width="3.00" height="2.00" fill="#cadf95"/>
<rect x="501.00" y="225.00" width="4.00" height="2.00" fill="#9dd055"/>
<rect x="501.00" y="227.00" width="4.00" height="2.00" fill="#e1ebc0"/>
<rect x="501.00" y="229.00" width="4.00" height="2.00" fill="#30af7a"/>
<rect x="501.00" y="231.00" width="4.00" height="2.00" fill="#30af7a"/>
<rect x="501.00" y="233.00" width="4.00" height="2.00" fill="#1f9c89"/>
<rect x="501.00" y="235.00" width="4.00" height="2.00" fill="#30af7a"/>
<rect x="501.00" y="237.00" width="4.00" height="2.00" fill="#60c059"/>
<rect x="501.00" y="239.00" width="4.00" height="1.00" fill="#60c059"/>
<rect x="501.00" y="240.00" width="4.00" height="2.00" fill="#60c059"/>
<rect x="501.00" y="242.00" width="4.00" height="2.00" fill="#f2f6e3"/>
<rect x="501.00" y="244.00" width="4.00" height="2.00" fill="#cadf95"/>
<rect x="505.00" y="214.00" width="3.00" height="2.00" fill="#f2f6e3"/>
<rect x="505.00" y="216.00" width="3.00" height="1.00" fill="#60c059"/>
<rect x="505.00" y="217.00" width="3.00" height="2.00" fill="#9dd055"/>
<rect x="505.00" y="219.00" width="3.00" height="2.00" fill="#f2f6e3"/>
<rect x="505.00" y="221.00" width="3.00" height="2.00" fill="#1f9c89"/>
<rect x="505.00" y="223.00" width="3.00" height="2.00" fill="#277d8e"/>
<rect x="505.00" y="225.00" width="3.00" height="2.00" fill="#277d8e"/>
<rect x="505.00" y="227.00" width="3.00" height="2.00" fill="#9dd055"/>
<rect x="505.00" y="229.00" width="3.00" height="2.00" fill="#cadf95"/>
<rect x="505.00" y="231.00" width="3.00" height="2.00" fill="#cadf95"/>
<rect x="505.00" y="233.00" width="3.00" height="2.00" fill="#f2f6e3"/>
<rect x="505.00" y="235.00" width="3.00" height="2.00" fill="#f2f6e3"/>
<rect x="508.00" y="214.00" width="4.00" height="2.00" fill="#f2f6e3"/>
<rect x="508.00" y="216.00" width="4.00" height="1.00" fill="#60c059"/>
<rect x="508.00" y="217.00" width="4.00" height="2.00" fill="#9dd055"/>
<rect x="508.00" y="219.00" width="4.00" height="2.00" fill="#f2f6e3"/>
<rect x="508.00" y="221.00" width="4.00" height="2.00" fill="#1f9c89"/>
<rect x="508.00" y="223.00" width="4.00" height="2.00" fill="#277d8e"/>
<rect x="508.00" y="225.00" width="4.00" height="2.00" fill="#277d8e"/>
<rect x="508.00" y="227.00" width="4.00" height="2.00" fill="#9dd055"/>
<rect x="508.00" y="229.00" width="4.00" height="2.00" fill="#cadf95"/>
<rect x="508.00" y="231.00" width="4.00" height="2.00" fill="#cadf95"/>
<rect x="508.00" y="233.00" width="4.00" height="2.00" fill="#f2f6e3"/>
<rect x="508.00" y="235.00" width="4.00" height="2.00" fill="#f2f6e3"/>
<rect x="512.00" y="214.00" width="3.00" height="2.00" fill="#f2f6e3"/>
<rect x="512.00" y="216.00" width="3.00" height="1.00" fill="#60c059"/>
<rect x="512.00" y="217.00" width="3.00" height="2.00" fill="#9dd055"/>
<rect x="512.00" y="219.00" width="3.00" height="2.00" fill="#f2f6e3"/>
<rect x="512.00" y="221.00" width="3.00" height="2.00" fill="#1f9c89"/>
<rect x="512.00" y="223.00" width="3.00" height="2.00" fill="#277d8e"/>
<rect x="512.00" y="225.00" width="3.00" height="2.00" fill="#277d8e"/>
<rect x="512.00" y="227.00" width="3.00" height="2.00" fill="#9dd055"/>
<rect x="512.00" y="229.00" width="3.00" height="2.00" fill="#cadf95"/>
<rect x="512.00" y="231.00" width="3.00" height="2.00" fill="#cadf95"/>
<rect x="512.00" y="233.00" width="3.00" height="2.00" fill="#f2f6e3"/>
<rect x="512.00" y="235.00" width="3.00" height="2.00" fill="#f2f6e3"/>
<rect x="515.00" y="214.00" width="3.00" height="2.00" fill="#f2f6e3"/>
<rect x="515.00" y="216.00" width="3.00" height="1.00" fill="#60c059"/>
<rect x="515.00" y="217.00" width="3.00" height="2.00" fill="#9dd055"/>
<rect x="515.00" y="219.00" width="3.00" height="2.00" fill="#f2f6e3"/>
<rect x="515.00" y="221.00" width="3.00" height="2.00" fill="#1f9c89"/>
<rect x="515.00" y="223.00" width="3.00" height="2.00" fill="#277d8e"/>
<rect x="515.00" y="225.00" width="3.00" height="2.00" fill="#277d8e"/>
<rect x="515.00" y="227.00" width="3.00" height="2.00" fill="#9dd055"/>
<rect x="515.00" y="229.00" width="3.00" height="2.00" fill="#cadf95"/>
<rect x="515.00" y="231.00" width="3.00" height="2.00" fill="#cadf95"/>
<rect x="515.00" y="233.00" width="3.00" height="2.00" fill="#f2f6e3"/>
<rect x="515.00" y="235.00" width="3.00" height="2.00" fill="#f2f6e3"/>
<rect x="518.00" y="214.00" width="5.00" height="2.00" fill="#f2f6e3"/>
<rect x="518.00" y="216.00" width="5.00" height="1.00" fill="#60c059"/>
<rect x="518.00" y="217.00" width="5.00" height="2.00" fill="#9dd055"/>
<rect x="518.00" y="219.00" width="5.00" height="2.00" fill="#f2f6e3"/>
<rect x="518.00" y="221.00" width="5.00" height="2.00" fill="#1f9c89"/>
<rect x="518.00" y="223.00" width="5.00" height="2.00" fill="#277d8e"/>
<rect x="518.00" y="225.00" width="5.00" height="2.00" fill="#277d8e"/>
<rect x="518.00" y="227.00" width="5.00" height="2.00" fill="#9dd055"/>
<rect x="518.00" y="229.00" width="5.00" height="2.00" fill="#cadf95"/>
<rect x="518.00" y="231.00" width="5.00" height="2.00" fill="#cadf95"/>
<rect x="518.00" y="233.00" width="5.00" height="2.00" fill="#f2f6e3"/>
<rect x="518.00" y="235.00" width="5.00" height="2.00" fill="#f2f6e3"/>
</g>
<path class="g" d="M105.5 48.0V336.0M121.5 48.0V336.0M132.5 48.0V336.0M141.5 48.0V336.0M149.5 48.0V336.0M155.5 48.0V336.0M160.5 48.0V336.0M165.5 48.0V336.0M169.5 48.0V336.0M197.5 48.0V336.0M213.5 48.0V336.0M224.5 48.0V336.0M233.5 48.0V336.0M241.5 48.0V336.0M247.5 48.0V336.0M252.5 48.0V336.0M257.5 48.0V336.0M261.5 48.0V336.0M289.5 48.0V336.0M305.5 48.0V336.0M317.5 48.0V336.0M326.5 48.0V336.0M333.5 48.0V336.0M339.5 48.0V336.0M344.5 48.0V336.0M349.5 48.0V336.0M353.5 48.0V336.0M381.5 48.0V336.0M397.5 48.0V336.0M409.5 48.0V336.0M418.5 48.0V336.0M425.5 48.0V336.0M431.5 48.0V336.0M437.5 48.0V336.0M441.5 48.0V336.0M445.5 48.0V336.0M473.5 48.0V336.0M489.5 48.0V336.0M501.5 48.0V336.0M510.5 48.0V336.0M517.5 48.0V336.0M523.5 48.0V336.0M529.5 48.0V336.0M533.5 48.0V336.0M76.8 298.5H538.5M76.8 259.5H538.5M76.8 221.5H538.5M76.8 182.5H538.5M76.8 144.5H538.5M76.8 106.5H538.5M76.8 67.5H538.5"/>
<path d="M104.54 215.74 L108.01 214.98 L111.48 214.42 L114.95 214.00 L118.42 212.86 L121.88 210.00 L125.35 210.10 L128.82 210.62 L132.29 211.18 L135.76 211.60 L139.22 212.12 L142.69 212.72 L146.16 213.26 L149.63 213.60 L153.09 214.10 L156.56 214.53 L160.03 214.65 L163.50 214.54 L166.97 213.87 L170.43 212.82 L173.90 211.98 L177.37 211.42 L180.84 211.03 L184.31 210.72 L187.77 210.66 L191.24 210.96 L194.71 211.34 L198.18 211.97 L201.65 212.25 L205.11 212.18 L208.58 211.86 L212.05 211.76 L215.52 212.08 L218.98 212.49 L222.45 212.96 L225.92 213.50 L229.39 213.99 L232.86 214.46 L236.32 214.97 L239.79 215.27 L243.26 215.35 L246.73 215.30 L250.20 215.06 L253.66 214.80 L257.13 214.16 L260.60 212.87 L264.07 211.01 L267.54 209.11 L271.00 207.22 L274.47 205.37 L277.94 203.36 L281.41 200.54 L284.87 197.23 L288.34 194.61 L291.81 192.75 L295.28 191.09 L298.75 189.67 L302.21 188.62 L305.68 187.74 L309.15 186.96 L312.62 186.24 L316.09 185.50 L319.55 185.08 L323.02 185.05 L326.49 185.38 L329.96 186.41 L333.43 189.29 L336.89 193.98 L340.36 200.05 L343.83 206.50 L347.30 213.15 L350.76 219.22 L354.23 226.21 L357.70 232.89 L361.17 237.29 L364.64 239.85 L368.10 242.19 L371.57 245.11 L375.04 248.40 L378.51 252.82 L381.98 257.24 L385.44 261.42 L388.91 265.77 L392.38 269.29 L395.85 271.69 L399.32 273.05 L402.78 274.20 L406.25 275.15 L409.72 275.86 L413.19 276.31 L416.65 276.32 L420.12 276.14 L423.59 275.80 L427.06 275.24 L430.53 274.37 L433.99 273.22 L437.46 271.67 L440.93 269.45 L444.40 267.77 L447.87 265.89 L451.33 263.50 L454.80 261.60 L458.27 259.75 L461.74 257.90 L465.21 252.60 L468.67 252.25 L472.14 249.60 L475.61 248.50 L479.08 240.10 L482.55 240.10 L486.01 240.10 L489.48 240.10 L492.95 234.40 L496.42 234.40 L499.88 234.40 L503.35 234.40 L506.82 223.40 L510.29 223.40 L513.76 223.40 L517.22 223.40 L520.69 223.40" fill="none" stroke="#000" stroke-width="2.1" stroke-linejoin="round" stroke-linecap="square"/>
<clipPath id="c"><rect x="76.8" y="48" width="461.6" height="288.4"/></clipPath>
<path clip-path="url(#c)" d="M168.96 127.68 L200.52 139.02 L215.51 164.16 L252.19 182.40 L314.55 140.16 L322.20 137.28 L334.79 145.92 L343.85 169.91 L370.56 182.40 L381.02 217.91 L496.13 193.93 L537.60 166.60" fill="none" stroke="#666" stroke-width="2.78" stroke-linejoin="round" stroke-linecap="square"/>
<path clip-path="url(#c)" d="M168.96 274.56 L190.20 272.06 L224.45 272.06 L252.19 276.87 L269.73 266.30 L296.16 237.40 L319.50 222.91 L325.54 222.90 L332.83 238.08 L353.28 266.40 L360.58 271.19 L371.08 263.29 L384.66 292.81 L399.33 307.19 L413.48 312.00 L431.16 312.00 L445.84 307.20 L462.72 307.18 L492.98 311.98 L517.15 306.01 L537.60 294.68" fill="none" stroke="#666" stroke-width="2.78" stroke-linejoin="round" stroke-linecap="square"/>
<path class="k" d="M77.5 48.5H538.5V336.5H77.5Z" stroke-linejoin="miter"/>
<path class="k" d="M77.5 336.5V341.5M169.5 336.5V341.5M261.5 336.5V341.5M353.5 336.5V341.5M445.5 336.5V341.5M538.5 336.5V341.5M77.5 336.5H72.5M77.5 298.5H72.5M77.5 259.5H72.5M77.5 221.5H72.5M77.5 182.5H72.5M77.5 144.5H72.5M77.5 106.5H72.5M77.5 67.5H72.5"/>
<path d="M105.5 336.5V339.6M121.5 336.5V339.6M132.5 336.5V339.6M141.5 336.5V339.6M149.5 336.5V339.6M155.5 336.5V339.6M160.5 336.5V339.6M165.5 336.5V339.6M197.5 336.5V339.6M213.5 336.5V339.6M224.5 336.5V339.6M233.5 336.5V339.6M241.5 336.5V339.6M247.5 336.5V339.6M252.5 336.5V339.6M257.5 336.5V339.6M289.5 336.5V339.6M305.5 336.5V339.6M317.5 336.5V339.6M326.5 336.5V339.6M333.5 336.5V339.6M339.5 336.5V339.6M344.5 336.5V339.6M349.5 336.5V339.6M381.5 336.5V339.6M397.5 336.5V339.6M409.5 336.5V339.6M418.5 336.5V339.6M425.5 336.5V339.6M431.5 336.5V339.6M437.5 336.5V339.6M441.5 336.5V339.6M473.5 336.5V339.6M489.5 336.5V339.6M501.5 336.5V339.6M510.5 336.5V339.6M517.5 336.5V339.6M523.5 336.5V339.6M529.5 336.5V339.6M533.5 336.5V339.6" stroke="#000" stroke-width="1.0" fill="none"/>
<text class="l" text-anchor="middle" x="76.80" y="356.7">0.01</text>
<text class="l" text-anchor="middle" x="168.96" y="356.7">0.1</text>
<text class="l" text-anchor="middle" x="261.12" y="356.7">1</text>
<text class="l" text-anchor="middle" x="353.28" y="356.7">10</text>
<text class="l" text-anchor="middle" x="445.44" y="356.7">100</text>
<text class="l" text-anchor="middle" x="537.60" y="356.7">1000</text>
<text class="l" x="29.50" y="341.30" textLength="37.0" lengthAdjust="spacing">−200</text>
<text class="l" x="29.50" y="302.90" textLength="37.0" lengthAdjust="spacing">−180</text>
<text class="l" x="29.50" y="264.50" textLength="37.0" lengthAdjust="spacing">−160</text>
<text class="l" x="29.50" y="226.10" textLength="37.0" lengthAdjust="spacing">−140</text>
<text class="l" x="29.50" y="187.70" textLength="37.0" lengthAdjust="spacing">−120</text>
<text class="l" x="29.50" y="149.30" textLength="37.0" lengthAdjust="spacing">−100</text>
<text class="l" x="38.30" y="110.90" textLength="28.2" lengthAdjust="spacing">−80</text>
<text class="l" x="38.30" y="72.50" textLength="28.2" lengthAdjust="spacing">−60</text>
<text class="l" text-anchor="middle" x="307.20" y="376.0">Period [s]</text>
<text class="l" transform="translate(17.3 268.9) rotate(-90)"><tspan x="0" textLength="50.8" lengthAdjust="spacing">Power [</tspan><tspan x="51.9" font-style="italic">m</tspan><tspan x="66.1" font-size="9.72px" dy="-5.8">2</tspan><tspan x="72.85" font-style="italic" dy="5.8">/s</tspan><tspan x="85.7" font-size="9.72px" dy="-5.8">4</tspan><tspan x="92.25" font-style="italic" dy="5.8" textLength="23" lengthAdjust="spacing">/Hz</tspan><tspan x="114.6">] [dB]</tspan></text>
<defs><linearGradient id="cb" x1="0" y1="1" x2="0" y2="0">
<stop offset="0.0000" stop-color="#ffffff"/>
<stop offset="0.0167" stop-color="#fbfcf5"/>
<stop offset="0.0333" stop-color="#f7f9ec"/>
<stop offset="0.0500" stop-color="#f2f6e3"/>
<stop offset="0.0667" stop-color="#eef3da"/>
<stop offset="0.0833" stop-color="#eaf1d2"/>
<stop offset="0.1000" stop-color="#e6eeca"/>
<stop offset="0.1167" stop-color="#e1ebc0"/>
<stop offset="0.1333" stop-color="#dbe8b6"/>
<stop offset="0.1500" stop-color="#d6e5ac"/>
<stop offset="0.1667" stop-color="#d0e2a2"/>
<stop offset="0.1833" stop-color="#cadf95"/>
<stop offset="0.2000" stop-color="#c3dc88"/>
<stop offset="0.2167" stop-color="#bad979"/>
<stop offset="0.2333" stop-color="#b1d66b"/>
<stop offset="0.2500" stop-color="#a8d35c"/>
<stop offset="0.2667" stop-color="#9dd055"/>
<stop offset="0.2833" stop-color="#91cc4f"/>
<stop offset="0.3000" stop-color="#86c948"/>
<stop offset="0.3167" stop-color="#73c451"/>
<stop offset="0.3333" stop-color="#60c059"/>
<stop offset="0.3500" stop-color="#57be5f"/>
<stop offset="0.3667" stop-color="#4dbc66"/>
<stop offset="0.3833" stop-color="#41b76e"/>
<stop offset="0.4000" stop-color="#35b276"/>
<stop offset="0.4167" stop-color="#30af7a"/>
<stop offset="0.4333" stop-color="#2bab7e"/>
<stop offset="0.4500" stop-color="#26a882"/>
<stop offset="0.4667" stop-color="#24a484"/>
<stop offset="0.4833" stop-color="#21a087"/>
<stop offset="0.5000" stop-color="#1f9c89"/>
<stop offset="0.5167" stop-color="#20988a"/>
<stop offset="0.5333" stop-color="#21948b"/>
<stop offset="0.5500" stop-color="#22908c"/>
<stop offset="0.5667" stop-color="#238b8c"/>
<stop offset="0.5833" stop-color="#24878d"/>
<stop offset="0.6000" stop-color="#25838e"/>
<stop offset="0.6167" stop-color="#26808e"/>
<stop offset="0.6333" stop-color="#277d8e"/>
<stop offset="0.6500" stop-color="#29798e"/>
<stop offset="0.6667" stop-color="#2a768e"/>
<stop offset="0.6833" stop-color="#2c718e"/>
<stop offset="0.7000" stop-color="#2f6c8e"/>
<stop offset="0.7167" stop-color="#31668d"/>
<stop offset="0.7333" stop-color="#34618d"/>
<stop offset="0.7500" stop-color="#365c8d"/>
<stop offset="0.7667" stop-color="#38578c"/>
<stop offset="0.7833" stop-color="#3a528b"/>
<stop offset="0.8000" stop-color="#3d4e89"/>
<stop offset="0.8167" stop-color="#3f4988"/>
<stop offset="0.8333" stop-color="#414487"/>
<stop offset="0.8500" stop-color="#423d83"/>
<stop offset="0.8667" stop-color="#44367f"/>
<stop offset="0.8833" stop-color="#452f7b"/>
<stop offset="0.9000" stop-color="#472877"/>
<stop offset="0.9167" stop-color="#482173"/>
<stop offset="0.9333" stop-color="#471b6d"/>
<stop offset="0.9500" stop-color="#461467"/>
<stop offset="0.9667" stop-color="#460e60"/>
<stop offset="0.9833" stop-color="#45075a"/>
<stop offset="1.0000" stop-color="#440154"/>
</linearGradient></defs>
<rect x="566.5" y="170.5" width="9" height="166" fill="url(#cb)" stroke="#000" stroke-width="1.11"/>
<text class="l" x="591.2" y="341.80" textLength="8.4" lengthAdjust="spacing">0</text>
<text class="l" x="591.2" y="314.22" textLength="8.4" lengthAdjust="spacing">5</text>
<text class="l" x="591.3" y="286.63" textLength="16.9" lengthAdjust="spacing">10</text>
<text class="l" x="591.3" y="259.05" textLength="16.9" lengthAdjust="spacing">15</text>
<text class="l" x="591.3" y="231.47" textLength="16.9" lengthAdjust="spacing">20</text>
<text class="l" x="591.3" y="203.89" textLength="16.9" lengthAdjust="spacing">25</text>
<text class="l" x="591.3" y="176.30" textLength="16.9" lengthAdjust="spacing">30</text>
<path class="k" d="M581.3 336.5H586.2M581.3 308.5H586.2M581.3 281.5H586.2M581.3 253.5H586.2M581.3 226.5H586.2M581.3 198.5H586.2M581.3 170.5H586.2"/>
<text class="l" text-anchor="middle" transform="translate(624.7 194.1) rotate(-90)" textLength="23.3" lengthAdjust="spacing">[%]</text>
<g shape-rendering="crispEdges"><rect x="116.36" y="379.2" width="407.28" height="7.68" fill="#008000"/><rect x="116.36" y="386.88" width="398.8" height="11.52" fill="#0000ff"/></g>
<path class="k" d="M96.5 379.5H544.5V398.5H96.5Z"/>
<text class="l" transform="translate(60.83 448.46) rotate(-30)" textLength="61.3" lengthAdjust="spacing">11-20 00</text>
<text class="l" transform="translate(111.74 448.46) rotate(-30)" textLength="61.3" lengthAdjust="spacing">11-20 03</text>
<text class="l" transform="translate(162.65 448.46) rotate(-30)" textLength="61.3" lengthAdjust="spacing">11-20 06</text>
<text class="l" transform="translate(213.56 448.46) rotate(-30)" textLength="61.3" lengthAdjust="spacing">11-20 09</text>
<text class="l" transform="translate(264.46 448.46) rotate(-30)" textLength="61.3" lengthAdjust="spacing">11-20 12</text>
<text class="l" transform="translate(315.37 448.46) rotate(-30)" textLength="61.3" lengthAdjust="spacing">11-20 15</text>
<text class="l" transform="translate(366.28 448.46) rotate(-30)" textLength="61.3" lengthAdjust="spacing">11-20 18</text>
<text class="l" transform="translate(417.19 448.46) rotate(-30)" textLength="61.3" lengthAdjust="spacing">11-20 21</text>
<text class="l" transform="translate(468.10 448.46) rotate(-30)" textLength="61.3" lengthAdjust="spacing">11-21 00</text>
<path class="k" d="M116.5 398.4V403.26M167.5 398.4V403.26M218.5 398.4V403.26M269.5 398.4V403.26M320.5 398.4V403.26M371.5 398.4V403.26M422.5 398.4V403.26M473.5 398.4V403.26M524.5 398.4V403.26"/>
</svg></body></html>
